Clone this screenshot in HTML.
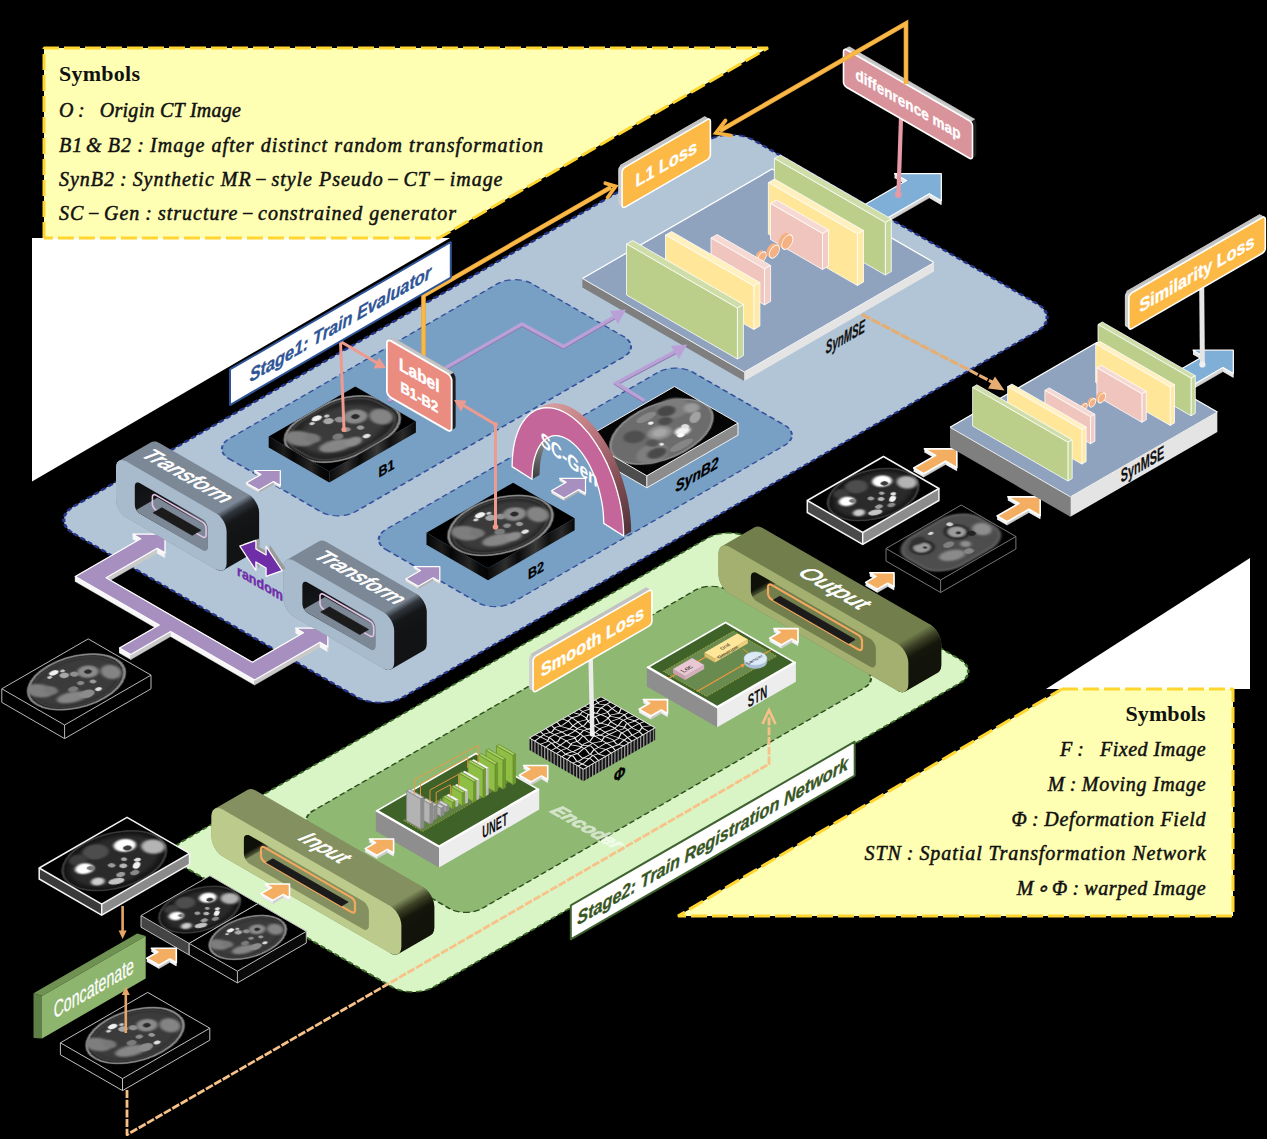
<!DOCTYPE html><html><head><meta charset="utf-8"><title>diagram</title><style>html,body{margin:0;padding:0;background:#000;}svg{display:block}</style></head><body>
<svg width="1267" height="1139" viewBox="0 0 1267 1139">
<defs>
<filter id="bl1" x="-20%" y="-20%" width="140%" height="140%"><feGaussianBlur stdDeviation="1.2"/></filter>
<filter id="bl2" x="-20%" y="-20%" width="140%" height="140%"><feGaussianBlur stdDeviation="2.2"/></filter>
<filter id="bl05" x="-20%" y="-20%" width="140%" height="140%"><feGaussianBlur stdDeviation="0.6"/></filter>
<linearGradient id="gblack" x1="0" y1="0" x2="1" y2="1"><stop offset="0" stop-color="#6f7a86"/><stop offset="0.25" stop-color="#15171a"/><stop offset="1" stop-color="#121315"/></linearGradient>
<linearGradient id="gblackG" x1="0" y1="0" x2="1" y2="1"><stop offset="0" stop-color="#7a8555"/><stop offset="0.3" stop-color="#1a1b0e"/><stop offset="1" stop-color="#12130a"/></linearGradient>
<linearGradient id="gslot" x1="0" y1="0" x2="0.6" y2="1"><stop offset="0" stop-color="#0e0f10"/><stop offset="0.45" stop-color="#17191b"/><stop offset="0.8" stop-color="#5e6872"/></linearGradient>
<linearGradient id="gslotG" x1="0" y1="0" x2="0.6" y2="1"><stop offset="0" stop-color="#101007"/><stop offset="0.45" stop-color="#1a1b0e"/><stop offset="0.8" stop-color="#6a7448"/></linearGradient>
<linearGradient id="gside" x1="0" y1="0" x2="1" y2="0"><stop offset="0" stop-color="#0a0a0a"/><stop offset="0.3" stop-color="#2a2a2a"/><stop offset="0.5" stop-color="#0d0d0d"/><stop offset="0.8" stop-color="#333"/><stop offset="1" stop-color="#0a0a0a"/></linearGradient>
<linearGradient id="garch" x1="0" y1="0" x2="0" y2="1"><stop offset="0" stop-color="#b57a84"/><stop offset="0.5" stop-color="#8a5158"/><stop offset="1" stop-color="#4a3035"/></linearGradient>
<linearGradient id="gsideL" x1="0" y1="0" x2="1" y2="0"><stop offset="0" stop-color="#050505"/><stop offset="0.25" stop-color="#1c1c1c"/><stop offset="0.4" stop-color="#060606"/><stop offset="0.7" stop-color="#262626"/><stop offset="0.85" stop-color="#0a0a0a"/><stop offset="1" stop-color="#050505"/></linearGradient>
<linearGradient id="gsideR" x1="0" y1="0" x2="1" y2="0"><stop offset="0" stop-color="#0a0a0a"/><stop offset="0.2" stop-color="#2e2e2e"/><stop offset="0.35" stop-color="#0a0a0a"/><stop offset="0.55" stop-color="#3a3a3a"/><stop offset="0.7" stop-color="#101010"/><stop offset="0.85" stop-color="#2a2a2a"/><stop offset="1" stop-color="#080808"/></linearGradient>
</defs>

<rect width="1267" height="1139" fill="#000"/>
<!-- parts_bg -->
<polygon points="32,238 450,238 32,481.5" fill="#ffffff" />
<polygon points="1250,558 1250,689 1046,689" fill="#ffffff" />
<polygon points="44,48 768,48 439,238 44,238" fill="#FFFFB3" />
<polyline points="44,238 44,48 768,48 439,238 44,238" fill="none" stroke="#FFD530" stroke-width="3" stroke-dasharray="16,5" stroke-linejoin="bevel"/>
<polygon points="1062,689 1233,689 1233,916 678,916" fill="#FFFFB3" />
<polyline points="1062,689 1233,689 1233,916 678,916 1062,689" fill="none" stroke="#FFD530" stroke-width="3" stroke-dasharray="16,5" stroke-linejoin="bevel"/>
<text x="59" y="81.2" font-family="&quot;Liberation Serif&quot;, serif" font-weight="bold" font-size="22" fill="#111" textLength="81" lengthAdjust="spacing">Symbols</text>
<text x="59" y="116.7" font-family="&quot;Liberation Serif&quot;, serif" font-style="italic" font-size="20" fill="#111" stroke="#111" stroke-width="0.5" textLength="182" lengthAdjust="spacing" xml:space="preserve">O :   Origin CT Image</text>
<text x="59" y="151.5" font-family="&quot;Liberation Serif&quot;, serif" font-style="italic" font-size="20" fill="#111" stroke="#111" stroke-width="0.5" textLength="484" lengthAdjust="spacing" xml:space="preserve">B1 &amp; B2 : Image after distinct random transformation</text>
<text x="59" y="186" font-family="&quot;Liberation Serif&quot;, serif" font-style="italic" font-size="20" fill="#111" stroke="#111" stroke-width="0.5" textLength="443.5" lengthAdjust="spacing" xml:space="preserve">SynB2 : Synthetic MR − style Pseudo − CT − image</text>
<text x="59" y="220.4" font-family="&quot;Liberation Serif&quot;, serif" font-style="italic" font-size="20" fill="#111" stroke="#111" stroke-width="0.5" textLength="397" lengthAdjust="spacing" xml:space="preserve">SC − Gen : structure − constrained generator</text>
<text x="1125.5" y="721" font-family="&quot;Liberation Serif&quot;, serif" font-weight="bold" font-size="22" fill="#111" textLength="80" lengthAdjust="spacing">Symbols</text>
<text x="1060" y="756.3" font-family="&quot;Liberation Serif&quot;, serif" font-style="italic" font-size="20" fill="#111" stroke="#111" stroke-width="0.5" textLength="145.5999999999999" lengthAdjust="spacing" xml:space="preserve">F :   Fixed Image</text>
<text x="1047.7" y="791" font-family="&quot;Liberation Serif&quot;, serif" font-style="italic" font-size="20" fill="#111" stroke="#111" stroke-width="0.5" textLength="157.89999999999986" lengthAdjust="spacing" xml:space="preserve">M : Moving Image</text>
<text x="1011.4" y="825.7" font-family="&quot;Liberation Serif&quot;, serif" font-style="italic" font-size="20" fill="#111" stroke="#111" stroke-width="0.5" textLength="194.19999999999993" lengthAdjust="spacing" xml:space="preserve">Φ : Deformation Field</text>
<text x="864.6" y="859.8" font-family="&quot;Liberation Serif&quot;, serif" font-style="italic" font-size="20" fill="#111" stroke="#111" stroke-width="0.5" textLength="340.9999999999999" lengthAdjust="spacing" xml:space="preserve">STN : Spatial Transformation Network</text>
<text x="1016.8" y="894.6" font-family="&quot;Liberation Serif&quot;, serif" font-style="italic" font-size="20" fill="#111" stroke="#111" stroke-width="0.5" textLength="188.79999999999995" lengthAdjust="spacing" xml:space="preserve">M ∘ Φ : warped Image</text>
<!-- parts_stage1 -->
<rect x="0" y="0" width="381" height="786.1" rx="27" ry="27" fill="#B1C5D6" transform="matrix(0.8660,0.5000,0.8660,-0.5000,50.1,520)" stroke="#26358c" stroke-width="2.6" stroke-dasharray="5,3" />
<rect x="0" y="0" width="145.8" height="350" rx="20" ry="20" fill="#78A0C4" transform="matrix(0.8660,0.5000,0.8660,-0.5000,211.8,448.8)" stroke="#36509c" stroke-width="1.7" stroke-dasharray="5.5,3.5" />
<rect x="0" y="0" width="146" height="354.5" rx="20" ry="20" fill="#78A0C4" transform="matrix(0.8660,0.5000,0.8660,-0.5000,368.6,539.5)" stroke="#36509c" stroke-width="1.7" stroke-dasharray="5.5,3.5" />
<polygon points="165,534.2 132.9,534.2 132.9,539.2 165,539.2" fill="#c9c9c9" stroke="#c9c9c9" stroke-width="0.5" stroke-linejoin="round" />
<polygon points="132.9,534.2 140.7,538.8 140.7,543.8 132.9,539.2" fill="#f6f6f6" stroke="#f6f6f6" stroke-width="0.5" stroke-linejoin="round" />
<polygon points="140.7,538.8 75.3,576.5 75.3,581.5 140.7,543.8" fill="#c9c9c9" stroke="#c9c9c9" stroke-width="0.5" stroke-linejoin="round" />
<polygon points="75.3,576.5 159.3,625 159.3,630 75.3,581.5" fill="#f6f6f6" stroke="#f6f6f6" stroke-width="0.5" stroke-linejoin="round" />
<polygon points="159.3,625 119.5,648 119.5,653 159.3,630" fill="#c9c9c9" stroke="#c9c9c9" stroke-width="0.5" stroke-linejoin="round" />
<polygon points="119.5,648 130.8,654.5 130.8,659.5 119.5,653" fill="#f6f6f6" stroke="#f6f6f6" stroke-width="0.5" stroke-linejoin="round" />
<polygon points="130.8,654.5 170.6,631.5 170.6,636.5 130.8,659.5" fill="#c9c9c9" stroke="#c9c9c9" stroke-width="0.5" stroke-linejoin="round" />
<polygon points="170.6,631.5 254.6,680 254.6,685 170.6,636.5" fill="#f6f6f6" stroke="#f6f6f6" stroke-width="0.5" stroke-linejoin="round" />
<polygon points="254.6,680 320,642.2 320,647.2 254.6,685" fill="#c9c9c9" stroke="#c9c9c9" stroke-width="0.5" stroke-linejoin="round" />
<polygon points="320,642.2 327.8,646.8 327.8,651.8 320,647.2" fill="#f6f6f6" stroke="#f6f6f6" stroke-width="0.5" stroke-linejoin="round" />
<polygon points="327.8,646.8 327.8,628.2 327.8,633.2 327.8,651.8" fill="#c9c9c9" stroke="#c9c9c9" stroke-width="0.5" stroke-linejoin="round" />
<polygon points="327.8,628.2 295.7,628.2 295.7,633.2 327.8,633.2" fill="#c9c9c9" stroke="#c9c9c9" stroke-width="0.5" stroke-linejoin="round" />
<polygon points="295.7,628.2 303.5,632.8 303.5,637.8 295.7,633.2" fill="#f6f6f6" stroke="#f6f6f6" stroke-width="0.5" stroke-linejoin="round" />
<polygon points="303.5,632.8 252.4,662.2 252.4,667.2 303.5,637.8" fill="#c9c9c9" stroke="#c9c9c9" stroke-width="0.5" stroke-linejoin="round" />
<polygon points="252.4,662.2 106.1,577.8 106.1,582.8 252.4,667.2" fill="#f6f6f6" stroke="#f6f6f6" stroke-width="0.5" stroke-linejoin="round" />
<polygon points="106.1,577.8 157.2,548.2 157.2,553.2 106.1,582.8" fill="#c9c9c9" stroke="#c9c9c9" stroke-width="0.5" stroke-linejoin="round" />
<polygon points="157.2,548.2 165,552.8 165,557.8 157.2,553.2" fill="#f6f6f6" stroke="#f6f6f6" stroke-width="0.5" stroke-linejoin="round" />
<polygon points="165,552.8 165,534.2 165,539.2 165,557.8" fill="#c9c9c9" stroke="#c9c9c9" stroke-width="0.5" stroke-linejoin="round" />
<polygon points="165,534.2 132.9,534.2 140.7,538.8 75.3,576.5 159.3,625 119.5,648 130.8,654.5 170.6,631.5 254.6,680 320,642.2 327.8,646.8 327.8,628.2 295.7,628.2 303.5,632.8 252.4,662.2 106.1,577.8 157.2,548.2 165,552.8" fill="#A78FC0" stroke="#ffffff" stroke-width="1.3" stroke-linejoin="round" />
<polygon points="941.3,177.7 894.5,177.7 906.5,184.6 843.3,221.1 866.1,234.3 929.3,197.8 941.3,204.7" fill="#d4d4d4" stroke="#d4d4d4" stroke-width="0.6" stroke-linejoin="round" />
<polygon points="894.5,173.7 906.5,180.6 906.5,184.6 894.5,177.7" fill="#e6e6e6" />
<polygon points="843.3,217.1 866.1,230.3 866.1,234.3 843.3,221.1" fill="#e6e6e6" />
<polygon points="929.3,193.8 941.3,200.7 941.3,204.7 929.3,197.8" fill="#e6e6e6" />
<polygon points="941.3,173.7 894.5,173.7 906.5,180.6 843.3,217.1 866.1,230.3 929.3,193.8 941.3,200.7" fill="#7FAFD7" stroke="#ffffff" stroke-width="1.2" stroke-linejoin="round" />
<polygon points="582.4,278.5 744.3,372 744.3,381 582.4,287.5" fill="#7f7f7f" />
<polygon points="744.3,372 934,262.5 934,271.5 744.3,381" fill="#e4e4e4" />
<polygon points="582.4,278.5 772.1,169 934,262.5 744.3,372" fill="#8FA3BF" />
<polyline points="582.4,278.5 772.1,169 934,262.5" fill="none" stroke="#ffffff" stroke-width="1.3" />
<polyline points="582.4,278.5 744.3,372 934,262.5" fill="none" stroke="#f4f4f4" stroke-width="1" />
<polygon points="774.4,158.5 885.3,222.5 891.3,219 780.5,155" fill="#cfdea9" stroke="#ffffff" stroke-width="0.8" stroke-linejoin="round" />
<polygon points="885.3,222.5 885.3,275 891.3,271.5 891.3,219" fill="#c6d79b" stroke="#ffffff" stroke-width="0.8" stroke-linejoin="round" />
<polygon points="774.4,158.5 885.3,222.5 885.3,275 774.4,211" fill="#BBCF8A" stroke="#ffffff" stroke-width="0.8" stroke-linejoin="round" />
<polygon points="768.4,182.5 857.4,233.9 863.5,230.4 774.5,179" fill="#fff0bf" stroke="#ffffff" stroke-width="0.8" stroke-linejoin="round" />
<polygon points="857.4,233.9 857.4,285.5 863.5,282 863.5,230.4" fill="#ffeaa8" stroke="#ffffff" stroke-width="0.8" stroke-linejoin="round" />
<polygon points="768.4,182.5 857.4,233.9 857.4,285.5 768.4,234.1" fill="#FFE699" stroke="#ffffff" stroke-width="0.8" stroke-linejoin="round" />
<polygon points="770.5,203.5 822.5,233.5 828.5,230 776.6,200" fill="#f6d9d3" stroke="#ffffff" stroke-width="0.8" stroke-linejoin="round" />
<polygon points="822.5,233.5 822.5,269.5 828.5,266 828.5,230" fill="#f2cdc6" stroke="#ffffff" stroke-width="0.8" stroke-linejoin="round" />
<polygon points="770.5,203.5 822.5,233.5 822.5,269.5 770.5,239.5" fill="#F0C5BD" stroke="#ffffff" stroke-width="0.8" stroke-linejoin="round" />
<circle r="4.9" fill="#F4B183" transform="matrix(0.8660,-0.5000,0,1,759.6,255.7)"/>
<circle r="4.9" fill="#F4B183" transform="matrix(0.8660,-0.5000,0,1,760.5,256.2)"/>
<circle r="4.9" fill="#F4B183" transform="matrix(0.8660,-0.5000,0,1,761.3,256.7)"/>
<circle r="4.9" fill="#F4B183" stroke="#fff" stroke-width="0.9" transform="matrix(0.8660,-0.5000,0,1,762.1,257.2)"/>
<circle r="5.9" fill="#F4B183" transform="matrix(0.8660,-0.5000,0,1,771.4,249.8)"/>
<circle r="5.9" fill="#F4B183" transform="matrix(0.8660,-0.5000,0,1,772.4,250.4)"/>
<circle r="5.9" fill="#F4B183" transform="matrix(0.8660,-0.5000,0,1,773.4,251)"/>
<circle r="5.9" fill="#F4B183" stroke="#fff" stroke-width="0.9" transform="matrix(0.8660,-0.5000,0,1,774.4,251.6)"/>
<circle r="6.5" fill="#F4B183" transform="matrix(0.8660,-0.5000,0,1,784,240.1)"/>
<circle r="6.5" fill="#F4B183" transform="matrix(0.8660,-0.5000,0,1,785.1,240.8)"/>
<circle r="6.5" fill="#F4B183" transform="matrix(0.8660,-0.5000,0,1,786.2,241.4)"/>
<circle r="6.5" fill="#F4B183" stroke="#fff" stroke-width="0.9" transform="matrix(0.8660,-0.5000,0,1,787.3,242.1)"/>
<polygon points="711,238 764.5,268.9 770.6,265.4 717.1,234.5" fill="#f6d9d3" stroke="#ffffff" stroke-width="0.8" stroke-linejoin="round" />
<polygon points="764.5,268.9 764.5,304.9 770.6,301.4 770.6,265.4" fill="#f2cdc6" stroke="#ffffff" stroke-width="0.8" stroke-linejoin="round" />
<polygon points="711,238 764.5,268.9 764.5,304.9 711,274" fill="#F0C5BD" stroke="#ffffff" stroke-width="0.8" stroke-linejoin="round" />
<polygon points="665.5,235 753.8,286 759.9,282.5 671.6,231.5" fill="#fff0bf" stroke="#ffffff" stroke-width="0.8" stroke-linejoin="round" />
<polygon points="753.8,286 753.8,329.5 759.9,326 759.9,282.5" fill="#ffeaa8" stroke="#ffffff" stroke-width="0.8" stroke-linejoin="round" />
<polygon points="665.5,235 753.8,286 753.8,329.5 665.5,278.5" fill="#FFE699" stroke="#ffffff" stroke-width="0.8" stroke-linejoin="round" />
<polygon points="626.5,244 737.4,308 743.4,304.5 632.6,240.5" fill="#cfdea9" stroke="#ffffff" stroke-width="0.8" stroke-linejoin="round" />
<polygon points="737.4,308 737.4,359 743.4,355.5 743.4,304.5" fill="#c6d79b" stroke="#ffffff" stroke-width="0.8" stroke-linejoin="round" />
<polygon points="626.5,244 737.4,308 737.4,359 626.5,295" fill="#BBCF8A" stroke="#ffffff" stroke-width="0.8" stroke-linejoin="round" />
<g transform="matrix(0.8660,-0.5000,0,1,845.4,343)"><text transform="scale(0.61,1)" font-family="&quot;Liberation Sans&quot;, sans-serif" font-size="18.5" font-weight="bold" font-style="italic" fill="#111" text-anchor="middle"  stroke="#111" stroke-width="0.3" stroke-linejoin="round">SynMSE</text></g>
<polygon points="618.2,170.1 618.4,168.6 619.1,167.1 620.1,165.7 621.2,164.8 703.5,117.3 704.7,116.9 705.6,117.1 709.5,119.3 710.2,120.1 710.4,121.3 710.4,154.3 710.2,155.8 709.5,157.3 708.6,158.6 707.4,159.6 625.1,207.1 624,207.4 623,207.3 619.1,205 618.4,204.3 618.2,203.1" fill="#cdcdcd" />
<polygon points="623.9,167.8 708.6,118.9 704.7,116.6 620,165.5" fill="#c2c2c2" stroke="#c2c2c2" stroke-width="0.8" stroke-linejoin="round" />
<polygon points="622.1,172.3 622.3,170.8 623,169.3 624,168 625.1,167.1 707.4,119.6 708.6,119.1 709.5,119.3 710.2,120.1 710.4,121.3 710.4,154.3 710.2,155.8 709.5,157.3 708.6,158.6 707.4,159.6 625.1,207.1 624,207.5 623,207.3 622.3,206.5 622.1,205.3" fill="#FDB945" stroke="#ffffff" stroke-width="1.6" stroke-linejoin="round" />
<text transform="matrix(0.8660,-0.5000,0,1,666.3,170)" font-family="&quot;Liberation Sans&quot;, sans-serif" font-size="18.8" font-weight="bold" font-style="normal" fill="#fff" text-anchor="middle"  stroke="#fff" stroke-width="0.35" stroke-linejoin="round">L1 Loss</text>
<polyline points="388.5,402.1 522,325.6 563.4,348.2 619,315.6" fill="none" stroke="#8F78AE" stroke-width="2.4" stroke-linejoin="miter"/>
<polyline points="388.5,400.5 522,324 563.4,346.6 619,314" fill="none" stroke="#B9A0D6" stroke-width="3.4" stroke-linejoin="miter"/>
<polyline points="644.4,402.2 616,384.6 680,350.6" fill="none" stroke="#8F78AE" stroke-width="2.4" stroke-linejoin="miter"/>
<polyline points="644.4,400.6 616,383 680,349" fill="none" stroke="#B9A0D6" stroke-width="3.4" stroke-linejoin="miter"/>
<polygon points="626,309.5 610,311 618,324" fill="#B9A0D6" />
<polygon points="687,344.5 671,346 679,359" fill="#B9A0D6" />
<polygon points="116,467.5 116.3,464.6 117.4,462.3 119,460.8 151.5,442 153.7,441.4 156.2,441.6 158.9,442.8 248.7,494.6 251.4,496.6 253.9,499.2 256,502.4 257.7,505.8 258.7,509.3 259.1,512.6 259.1,544.6 258.7,547.5 257.7,549.8 256,551.3 223.6,570.1 221.4,570.7 218.9,570.5 216.2,569.4 126.4,517.5 123.7,515.5 121.2,512.9 119,509.7 117.4,506.3 116.3,502.8 116,499.5" fill="#7C8896" />
<linearGradient id="g1" gradientUnits="userSpaceOnUse" x1="216.2" y1="513.4" x2="231.6" y2="540"><stop offset="0" stop-color="#7C8896"/><stop offset="0.22" stop-color="#30353b"/><stop offset="0.5" stop-color="#141618"/><stop offset="1" stop-color="#121315"/></linearGradient>
<polygon points="216.2,513.4 248.7,494.6 251.4,496.6 253.9,499.2 256,502.4 257.7,505.8 258.7,509.3 259.1,512.6 259.1,544.6 258.7,547.5 257.7,549.8 256,551.3 223.6,570.1 221.4,570.7 218.9,570.5 216.2,569.4" fill="url(#g1)" />
<polygon points="116,467.5 116.4,464.6 117.4,462.3 119,460.8 121.2,460.1 123.7,460.4 126.4,461.5 216.2,513.4 218.9,515.3 221.4,518 223.5,521.1 225.2,524.5 226.2,528 226.6,531.4 226.6,563.4 226.2,566.3 225.2,568.5 223.5,570.1 221.4,570.7 218.9,570.5 216.2,569.4 126.4,517.5 123.7,515.5 121.2,512.9 119,509.7 117.4,506.3 116.4,502.8 116,499.5" fill="#A8BBCC" />
<clipPath id="c2"><polygon points="134.8,486.2 135,484.7 135.5,483.6 136.3,482.8 137.4,482.5 138.6,482.6 140,483.2 202.6,519.3 203.9,520.3 205.2,521.6 206.3,523.2 207.1,524.9 207.6,526.6 207.8,528.3 207.8,546.9 207.6,548.4 207.1,549.5 206.3,550.3 205.2,550.6 203.9,550.5 202.6,549.9 140,513.8 138.6,512.8 137.4,511.4 136.3,509.9 135.5,508.2 135,506.4 134.8,504.8"/></clipPath>
<polygon points="134.8,486.2 135,484.7 135.5,483.6 136.3,482.8 137.4,482.5 138.6,482.6 140,483.2 202.6,519.3 203.9,520.3 205.2,521.6 206.3,523.2 207.1,524.9 207.6,526.6 207.8,528.3 207.8,546.9 207.6,548.4 207.1,549.5 206.3,550.3 205.2,550.6 203.9,550.5 202.6,549.9 140,513.8 138.6,512.8 137.4,511.4 136.3,509.9 135.5,508.2 135,506.4 134.8,504.8" fill="url(#gslot)" />
<g clip-path="url(#c2)"><polygon points="134.8,510.8 207.8,552.9 230.3,539.9 157.3,497.8" fill="#7C8896" /></g>
<polygon points="152.4,497.1 152.5,496.1 152.8,495.4 153.4,494.9 154.1,494.6 154.9,494.7 155.8,495.1 202.6,522.1 203.5,522.8 204.3,523.6 205.1,524.7 205.6,525.8 205.9,527 206.1,528.1 206.1,534.9 205.9,535.9 205.6,536.6 205.1,537.1 204.3,537.4 203.5,537.3 202.6,536.9 155.8,509.9 154.9,509.2 154.1,508.4 153.4,507.3 152.8,506.2 152.5,505 152.4,503.9" fill="none" stroke="#E3C3E3" stroke-width="1.6" stroke-linejoin="round" />
<polygon points="153.2,512.8 192.2,535.3 200.9,530.3 161.9,507.8" fill="#1b1b1b" stroke="#1b1b1b" stroke-width="0.8" stroke-linejoin="round" />
<polygon points="283.6,566.7 283.9,563.8 285,561.5 286.6,560 319.1,541.2 321.3,540.6 323.8,540.8 326.5,542 416.3,593.8 419,595.8 421.5,598.4 423.6,601.6 425.3,605 426.3,608.5 426.7,611.8 426.7,643.8 426.3,646.7 425.3,649 423.6,650.5 391.1,669.3 389,669.9 386.5,669.7 383.8,668.5 294,616.7 291.3,614.7 288.8,612.1 286.6,608.9 285,605.5 283.9,602 283.6,598.7" fill="#7C8896" />
<linearGradient id="g3" gradientUnits="userSpaceOnUse" x1="383.8" y1="612.6" x2="399.2" y2="639.2"><stop offset="0" stop-color="#7C8896"/><stop offset="0.22" stop-color="#30353b"/><stop offset="0.5" stop-color="#141618"/><stop offset="1" stop-color="#121315"/></linearGradient>
<polygon points="383.8,612.5 416.3,593.8 419,595.8 421.5,598.4 423.6,601.6 425.3,605 426.3,608.5 426.7,611.8 426.7,643.8 426.3,646.7 425.3,649 423.6,650.5 391.1,669.3 389,669.9 386.5,669.7 383.8,668.5" fill="url(#g3)" />
<polygon points="283.6,566.7 284,563.8 285,561.5 286.6,560 288.8,559.3 291.3,559.6 294,560.7 383.8,612.6 386.5,614.5 389,617.2 391.1,620.3 392.8,623.7 393.8,627.2 394.2,630.6 394.2,662.6 393.8,665.5 392.8,667.7 391.1,669.3 389,669.9 386.5,669.7 383.8,668.6 294,616.7 291.3,614.7 288.8,612.1 286.6,608.9 285,605.5 284,602 283.6,598.7" fill="#A8BBCC" />
<clipPath id="c4"><polygon points="302.4,585.4 302.6,583.9 303.1,582.8 303.9,582 305,581.7 306.2,581.8 307.6,582.4 370.2,618.5 371.5,619.5 372.8,620.8 373.9,622.4 374.7,624.1 375.2,625.8 375.4,627.5 375.4,646.1 375.2,647.6 374.7,648.7 373.9,649.5 372.8,649.8 371.5,649.7 370.2,649.1 307.6,613 306.2,612 305,610.6 303.9,609.1 303.1,607.4 302.6,605.6 302.4,604"/></clipPath>
<polygon points="302.4,585.4 302.6,583.9 303.1,582.8 303.9,582 305,581.7 306.2,581.8 307.6,582.4 370.2,618.5 371.5,619.5 372.8,620.8 373.9,622.4 374.7,624.1 375.2,625.8 375.4,627.5 375.4,646.1 375.2,647.6 374.7,648.7 373.9,649.5 372.8,649.8 371.5,649.7 370.2,649.1 307.6,613 306.2,612 305,610.6 303.9,609.1 303.1,607.4 302.6,605.6 302.4,604" fill="url(#gslot)" />
<g clip-path="url(#c4)"><polygon points="302.4,610 375.4,652.1 397.9,639.1 324.9,597" fill="#7C8896" /></g>
<polygon points="320,596.3 320.1,595.3 320.4,594.6 321,594.1 321.7,593.8 322.5,593.9 323.4,594.3 370.2,621.3 371.1,622 371.9,622.8 372.7,623.9 373.2,625 373.5,626.2 373.7,627.3 373.7,634.1 373.5,635.1 373.2,635.8 372.7,636.3 371.9,636.6 371.1,636.5 370.2,636.1 323.4,609.1 322.5,608.4 321.7,607.6 321,606.5 320.4,605.4 320.1,604.2 320,603.1" fill="none" stroke="#E3C3E3" stroke-width="1.6" stroke-linejoin="round" />
<polygon points="320.8,612 359.8,634.5 368.5,629.5 329.5,607" fill="#1b1b1b" stroke="#1b1b1b" stroke-width="0.8" stroke-linejoin="round" />
<text transform="matrix(0.8660,0.5000,-0.8660,0.5000,181.6,479.5)" font-family="&quot;Liberation Sans&quot;, sans-serif" font-size="21.5" font-weight="normal" font-style="italic" fill="#fff" text-anchor="middle"  stroke="#fff" stroke-width="0.8" stroke-linejoin="round">Transform</text>
<text transform="matrix(0.8660,0.5000,-0.8660,0.5000,354.2,580.8)" font-family="&quot;Liberation Sans&quot;, sans-serif" font-size="21.5" font-weight="normal" font-style="italic" fill="#fff" text-anchor="middle"  stroke="#fff" stroke-width="0.8" stroke-linejoin="round">Transform</text>
<polygon points="243.3,544.1 259.4,538.4 259.4,546.9 269.6,552.9 269.6,544.4 285.7,568.6 269.6,574.4 269.6,565.9 259.4,559.9 259.4,568.4" fill="#9b9b9b" />
<polygon points="239.8,546.1 255.9,540.4 255.9,548.9 266.1,554.9 266.1,546.4 282.2,570.6 266.1,576.4 266.1,567.9 255.9,561.9 255.9,570.4" fill="#6F2DA8" stroke="#ffffff" stroke-width="1.2" stroke-linejoin="round" />
<text transform="matrix(0.8660,0.5000,0,1,260,588.2)" font-family="&quot;Liberation Sans&quot;, sans-serif" font-size="14.5" font-weight="bold" font-style="normal" fill="#6F2DA8" text-anchor="middle"  stroke="#6F2DA8" stroke-width="0.4" stroke-linejoin="round">random</text>
<polygon points="585.5,480.8 559.5,480.8 566.2,484.7 551.5,493.2 564.1,500.4 578.8,491.9 585.5,495.8" fill="#b0b0b0" stroke="#b0b0b0" stroke-width="0.6" stroke-linejoin="round" />
<polygon points="559.5,478.3 566.2,482.2 566.2,484.7 559.5,480.8" fill="#e6e6e6" />
<polygon points="551.5,490.7 564.1,497.9 564.1,500.4 551.5,493.2" fill="#e6e6e6" />
<polygon points="578.8,489.4 585.5,493.3 585.5,495.8 578.8,491.9" fill="#e6e6e6" />
<polygon points="585.5,478.3 559.5,478.3 566.2,482.2 551.5,490.7 564.1,497.9 578.8,489.4 585.5,493.3" fill="#A78FC0" stroke="#ffffff" stroke-width="1.2" stroke-linejoin="round" />
<polygon points="280.3,473 254.3,473 261,476.9 246.3,485.4 258.9,492.6 273.6,484.1 280.3,488" fill="#b0b0b0" stroke="#b0b0b0" stroke-width="0.6" stroke-linejoin="round" />
<polygon points="254.3,470.5 261,474.4 261,476.9 254.3,473" fill="#e6e6e6" />
<polygon points="246.3,482.9 258.9,490.1 258.9,492.6 246.3,485.4" fill="#e6e6e6" />
<polygon points="273.6,481.6 280.3,485.5 280.3,488 273.6,484.1" fill="#e6e6e6" />
<polygon points="280.3,470.5 254.3,470.5 261,474.4 246.3,482.9 258.9,490.1 273.6,481.6 280.3,485.5" fill="#A78FC0" stroke="#ffffff" stroke-width="1.2" stroke-linejoin="round" />
<polygon points="439.8,569.1 413.8,569.1 420.5,573 405.8,581.5 418.4,588.8 433.1,580.2 439.8,584.1" fill="#b0b0b0" stroke="#b0b0b0" stroke-width="0.6" stroke-linejoin="round" />
<polygon points="413.8,566.6 420.5,570.5 420.5,573 413.8,569.1" fill="#e6e6e6" />
<polygon points="405.8,579 418.4,586.2 418.4,588.8 405.8,581.5" fill="#e6e6e6" />
<polygon points="433.1,577.8 439.8,581.6 439.8,584.1 433.1,580.2" fill="#e6e6e6" />
<polygon points="439.8,566.6 413.8,566.6 420.5,570.5 405.8,579 418.4,586.2 433.1,577.8 439.8,581.6" fill="#A78FC0" stroke="#ffffff" stroke-width="1.2" stroke-linejoin="round" />
<polygon points="268.7,436.6 329.3,471.6 329.3,482.6 268.7,447.6" fill="url(#gsideL)" />
<polygon points="329.3,471.6 415.9,421.6 415.9,432.6 329.3,482.6" fill="url(#gsideR)" />
<polygon points="268.7,436.6 355.3,386.6 415.9,421.6 329.3,471.6" fill="#000" />
<clipPath id="c5"><rect x="0" y="0" width="70" height="100"/></clipPath>
<g transform="matrix(0.8660,0.5000,0.8660,-0.5000,268.7,436.6)"><g clip-path="url(#c5)">
<clipPath id="b6"><rect x="0.5" y="-1" width="69" height="102" rx="28" ry="40"/></clipPath>
<rect x="0.5" y="-1" width="69" height="102" rx="28" ry="40" fill="#262626" stroke="#8a8a8a" stroke-width="2.2" filter="url(#bl05)"/>
<rect x="3.5" y="3" width="63" height="94" rx="25" ry="36" fill="none" stroke="#3c3c3c" stroke-width="2.2" filter="url(#bl05)"/>
<g clip-path="url(#b6)">
<ellipse cx="35" cy="50" rx="27" ry="41" fill="#3a3a3a" filter="url(#bl2)" />
<ellipse cx="20" cy="16" rx="13" ry="10.5" fill="#7e7e7e" filter="url(#bl1)" transform="rotate(20 20 16)" />
<ellipse cx="27" cy="24" rx="7" ry="6" fill="#777" filter="url(#bl1)" />
<ellipse cx="9.5" cy="46" rx="3.2" ry="5" fill="#f2f2f2" filter="url(#bl05)" />
<ellipse cx="12" cy="38" rx="2" ry="2.5" fill="#d0d0d0" filter="url(#bl05)" />
<ellipse cx="13" cy="54" rx="2" ry="2.5" fill="#c8c8c8" filter="url(#bl05)" />
<ellipse cx="19" cy="50" rx="4" ry="4.5" fill="#a8a8a8" filter="url(#bl05)" />
<ellipse cx="24" cy="58" rx="4" ry="4" fill="#8f8f8f" filter="url(#bl05)" />
<ellipse cx="30" cy="70" rx="9.5" ry="10.5" fill="#8a8a8a" filter="url(#bl1)" />
<ellipse cx="30" cy="70" rx="3.2" ry="3.6" fill="#2a2a2a" filter="url(#bl05)" />
<ellipse cx="45" cy="85" rx="11.5" ry="9.5" fill="#848484" filter="url(#bl1)" transform="rotate(-25 45 85)" />
<ellipse cx="48" cy="30" rx="8" ry="15" fill="#868686" filter="url(#bl1)" transform="rotate(-20 48 30)" />
<ellipse cx="54" cy="44" rx="5.5" ry="8" fill="#8c8c8c" filter="url(#bl1)" />
<ellipse cx="40" cy="40" rx="4" ry="5" fill="#7a7a7a" filter="url(#bl05)" />
<ellipse cx="56" cy="57" rx="2.6" ry="3.6" fill="#e2e2e2" filter="url(#bl05)" />
<ellipse cx="44" cy="62" rx="3" ry="3" fill="#9a9a9a" filter="url(#bl05)" />
<ellipse cx="38" cy="52" rx="3" ry="3.5" fill="#8a8a8a" filter="url(#bl05)" />
</g>
</g></g>
<text transform="matrix(0.8660,-0.5000,0,1,386.5,473)" font-family="&quot;Liberation Sans&quot;, sans-serif" font-size="14.5" font-weight="bold" font-style="normal" fill="#000" text-anchor="middle"  stroke="#000" stroke-width="0.3" stroke-linejoin="round">B1</text>
<polygon points="583.3,439.1 646.8,475.8 646.8,487.8 583.3,451.1" fill="#4d4d4d" />
<polygon points="646.8,475.8 738,423.1 738,435.1 646.8,487.8" fill="#8c8c8c" />
<polygon points="583.3,439.1 674.5,386.5 738,423.1 646.8,475.8" fill="#050505" />
<clipPath id="c7"><rect x="0" y="0" width="73.3" height="105.3"/></clipPath>
<g transform="matrix(0.8660,0.5000,0.8660,-0.5000,583.3,439.1)"><g clip-path="url(#c7)">
<ellipse cx="37.7" cy="52.6" rx="32.5" ry="52.6" fill="#6c6c6c" filter="url(#bl05)" transform="rotate(6 37.7 52.6)" stroke="#8a8a8a" stroke-width="2"/>
<ellipse cx="54.5" cy="25.3" rx="11.5" ry="15.8" fill="#7e7e7e" filter="url(#bl1)" transform="rotate(10 54.5 25.3)" />
<ellipse cx="56.5" cy="28.4" rx="6.3" ry="9.5" fill="#4a4a4a" filter="url(#bl1)" />
<ellipse cx="20.9" cy="82.1" rx="12.6" ry="15.8" fill="#7c7c7c" filter="url(#bl1)" transform="rotate(10 20.9 82.1)" />
<ellipse cx="19.9" cy="75.8" rx="6.8" ry="8.4" fill="#474747" filter="url(#bl1)" />
<ellipse cx="37.7" cy="50.5" rx="8.9" ry="11.1" fill="#8f8f8f" filter="url(#bl1)" />
<ellipse cx="37.7" cy="50.5" rx="5.2" ry="6.8" fill="#a8a8a8" filter="url(#bl1)" />
<ellipse cx="49.2" cy="65.3" rx="5.2" ry="7.4" fill="#f4f4f4" filter="url(#bl1)" />
<ellipse cx="46.1" cy="71.6" rx="3.1" ry="3.2" fill="#e0e0e0" filter="url(#bl05)" />
<ellipse cx="52.4" cy="60" rx="2.6" ry="3.2" fill="#ffffff" filter="url(#bl05)" />
<ellipse cx="23" cy="54.8" rx="2.1" ry="2.6" fill="#f0f0f0" filter="url(#bl05)" />
<ellipse cx="50.3" cy="40" rx="2.1" ry="2.1" fill="#eaeaea" filter="url(#bl05)" />
<ellipse cx="31.4" cy="93.7" rx="6.3" ry="7.4" fill="#9a9a9a" filter="url(#bl1)" transform="rotate(20 31.4 93.7)" />
<ellipse cx="27.2" cy="31.6" rx="8.4" ry="9.5" fill="#505050" filter="url(#bl1)" />
<ellipse cx="42.9" cy="86.3" rx="4.2" ry="8.4" fill="#a2a2a2" filter="url(#bl05)" transform="rotate(30 42.9 86.3)" />
<ellipse cx="29.3" cy="65.3" rx="5.2" ry="6.3" fill="#4c4c4c" filter="url(#bl1)" />
<ellipse cx="44" cy="35.8" rx="5.2" ry="5.3" fill="#555" filter="url(#bl1)" />
<ellipse cx="14.7" cy="57.9" rx="4.2" ry="10.5" fill="#888" filter="url(#bl05)" />
<ellipse cx="62.8" cy="50.5" rx="4.2" ry="12.6" fill="#858585" filter="url(#bl05)" />
</g></g>
<polygon points="583.3,439.1 674.5,386.5 738,423.1 646.8,475.8" fill="none" stroke="#f0f0f0" stroke-width="1" stroke-linejoin="round" />
<polyline points="583.3,439.1 583.3,451.1 646.8,487.8 738,435.1 738,423.1" fill="none" stroke="#f0f0f0" stroke-width="1" />
<polyline points="646.8,475.8 646.8,487.8" fill="none" stroke="#f0f0f0" stroke-width="1" />
<text transform="matrix(0.8660,-0.5000,0,1,697,480)" font-family="&quot;Liberation Sans&quot;, sans-serif" font-size="16" font-weight="bold" font-style="italic" fill="#000" text-anchor="middle"  stroke="#000" stroke-width="0.3" stroke-linejoin="round">SynB2</text>
<polygon points="426.5,532.7 488,568.2 488,580.2 426.5,544.7" fill="url(#gsideL)" />
<polygon points="488,568.2 574.6,518.2 574.6,530.2 488,580.2" fill="url(#gsideR)" />
<polygon points="426.5,532.7 513.1,482.7 574.6,518.2 488,568.2" fill="#000" />
<clipPath id="c8"><rect x="0" y="0" width="71" height="100"/></clipPath>
<g transform="matrix(0.8660,0.5000,0.8660,-0.5000,426.5,532.7)"><g clip-path="url(#c8)">
<clipPath id="b9"><rect x="1" y="1" width="69" height="98" rx="34.5" ry="49"/></clipPath>
<rect x="1" y="1" width="69" height="98" rx="34.5" ry="49" fill="#262626" stroke="#8a8a8a" stroke-width="2.2" filter="url(#bl05)"/>
<rect x="4.1" y="5" width="62.9" height="90" rx="31.4" ry="45" fill="none" stroke="#3c3c3c" stroke-width="2.2" filter="url(#bl05)"/>
<g clip-path="url(#b9)">
<ellipse cx="35.5" cy="50" rx="27.4" ry="41" fill="#3a3a3a" filter="url(#bl2)" />
<ellipse cx="23" cy="22.2" rx="12.5" ry="10" fill="#7e7e7e" filter="url(#bl1)" transform="rotate(20 23 22.2)" />
<ellipse cx="29.4" cy="29.2" rx="6.7" ry="5.7" fill="#777" filter="url(#bl1)" />
<ellipse cx="13.4" cy="48.4" rx="3.1" ry="4.8" fill="#f2f2f2" filter="url(#bl05)" />
<ellipse cx="15.7" cy="41.4" rx="1.9" ry="2.4" fill="#d0d0d0" filter="url(#bl05)" />
<ellipse cx="16.6" cy="55.4" rx="1.9" ry="2.4" fill="#c8c8c8" filter="url(#bl05)" />
<ellipse cx="22.1" cy="51.9" rx="3.9" ry="4.3" fill="#a8a8a8" filter="url(#bl05)" />
<ellipse cx="26.6" cy="58.9" rx="3.9" ry="3.8" fill="#8f8f8f" filter="url(#bl05)" />
<ellipse cx="32.1" cy="69.4" rx="9.2" ry="10" fill="#8a8a8a" filter="url(#bl1)" />
<ellipse cx="32.1" cy="69.4" rx="3.1" ry="3.4" fill="#2a2a2a" filter="url(#bl05)" />
<ellipse cx="45.9" cy="82.5" rx="11.1" ry="9" fill="#848484" filter="url(#bl1)" transform="rotate(-25 45.9 82.5)" />
<ellipse cx="48.6" cy="34.4" rx="7.7" ry="14.2" fill="#868686" filter="url(#bl1)" transform="rotate(-20 48.6 34.4)" />
<ellipse cx="54.1" cy="46.7" rx="5.3" ry="7.6" fill="#8c8c8c" filter="url(#bl1)" />
<ellipse cx="41.3" cy="43.2" rx="3.9" ry="4.8" fill="#7a7a7a" filter="url(#bl05)" />
<ellipse cx="55.9" cy="58" rx="2.5" ry="3.4" fill="#e2e2e2" filter="url(#bl05)" />
<ellipse cx="44.9" cy="62.4" rx="2.9" ry="2.8" fill="#9a9a9a" filter="url(#bl05)" />
<ellipse cx="39.5" cy="53.6" rx="2.9" ry="3.3" fill="#8a8a8a" filter="url(#bl05)" />
</g>
</g></g>
<text transform="matrix(0.8660,-0.5000,0,1,536,575)" font-family="&quot;Liberation Sans&quot;, sans-serif" font-size="14.5" font-weight="bold" font-style="normal" fill="#000" text-anchor="middle"  stroke="#000" stroke-width="0.3" stroke-linejoin="round">B2</text>
<linearGradient id="garchO" gradientUnits="userSpaceOnUse" x1="540" y1="405" x2="635" y2="535"><stop offset="0" stop-color="#d9a0a0"/><stop offset="0.35" stop-color="#b9737c"/><stop offset="0.7" stop-color="#7a4a50"/><stop offset="1" stop-color="#4a3035"/></linearGradient>
<linearGradient id="garchI" gradientUnits="userSpaceOnUse" x1="535" y1="440" x2="535" y2="480"><stop offset="0" stop-color="#8a8a8a"/><stop offset="1" stop-color="#3a3a3a"/></linearGradient>
<polygon points="623.7,536 623.5,529.1 623,522 622.2,514.8 621,507.5 619.5,500.1 617.6,492.8 615.5,485.5 613,478.3 610.3,471.2 607.4,464.4 604.1,457.7 600.7,451.3 597.1,445.3 593.2,439.6 589.3,434.2 585.1,429.3 580.9,424.8 576.6,420.8 572.3,417.3 567.9,414.3 563.5,411.8 559.2,409.9 554.9,408.6 550.7,407.8 546.5,407.6 542.6,408 538.7,409 535.1,410.5 531.7,412.6 528.4,415.2 525.5,418.4 522.8,422 520.3,426.2 518.2,430.8 516.3,435.9 514.8,441.4 513.6,447.2 512.8,453.4 512.3,459.8 512.1,466.6 519.6,462.2 519.8,455.5 520.3,449.1 521.1,442.9 522.3,437.1 523.8,431.6 525.7,426.5 527.8,421.9 530.3,417.7 533,414.1 535.9,410.9 539.2,408.3 542.6,406.2 546.2,404.7 550.1,403.7 554,403.3 558.2,403.5 562.4,404.3 566.7,405.6 571,407.5 575.4,410 579.8,413 584.1,416.5 588.4,420.5 592.6,425 596.8,429.9 600.7,435.3 604.6,441 608.2,447 611.6,453.4 614.9,460.1 617.8,466.9 620.5,474 623,481.2 625.1,488.5 627,495.8 628.5,503.2 629.7,510.5 630.5,517.7 631,524.8 631.2,531.8" fill="url(#garchO)" />
<polygon points="603.8,523.4 603.6,518.5 603.3,513.5 602.8,508.4 602,503.2 601,498.1 599.8,492.9 598.5,487.9 596.9,482.9 595.2,478 593.2,473.2 591.2,468.7 589,464.3 586.6,460.2 584.2,456.3 581.6,452.7 579,449.4 576.3,446.4 573.5,443.7 570.7,441.4 567.9,439.5 565.1,438 562.3,436.8 559.5,436 556.8,435.7 554.2,435.7 551.6,436.2 549.2,437.1 546.8,438.3 544.6,440 542.6,442 540.6,444.4 538.9,447.1 537.3,450.2 536,453.6 534.8,457.2 533.8,461.2 533,465.4 532.5,469.8 532.2,474.4 532,479.2 539.5,474.9 539.7,470.1 540,465.5 540.5,461.1 541.3,456.9 542.3,452.9 543.5,449.3 544.8,445.9 546.4,442.8 548.1,440.1 550.1,437.7 552.1,435.7 554.3,434 556.7,432.8 559.1,431.9 561.7,431.4 564.3,431.4 567,431.7 569.8,432.5 572.6,433.7 575.4,435.2 578.2,437.1 581,439.4 583.8,442.1 586.5,445.1 589.1,448.4 591.7,452 594.1,455.9 596.5,460 598.7,464.4 600.7,468.9 602.7,473.7 604.4,478.6 606,483.6 607.3,488.6 608.5,493.8 609.5,498.9 610.3,504.1 610.8,509.2 611.1,514.2 611.2,519.1" fill="url(#garchI)" />
<polygon points="623.7,536 623.5,529.1 623,522 622.2,514.8 621,507.5 619.5,500.1 617.6,492.8 615.5,485.5 613,478.3 610.3,471.2 607.4,464.4 604.1,457.7 600.7,451.3 597.1,445.3 593.2,439.6 589.3,434.2 585.1,429.3 580.9,424.8 576.6,420.8 572.3,417.3 567.9,414.3 563.5,411.8 559.2,409.9 554.9,408.6 550.7,407.8 546.5,407.6 542.6,408 538.7,409 535.1,410.5 531.7,412.6 528.4,415.2 525.5,418.4 522.8,422 520.3,426.2 518.2,430.8 516.3,435.9 514.8,441.4 513.6,447.2 512.8,453.4 512.3,459.8 512.1,466.6 532,479.2 532.2,474.4 532.5,469.8 533,465.4 533.8,461.2 534.8,457.2 536,453.6 537.3,450.2 538.9,447.1 540.6,444.4 542.6,442 544.6,440 546.8,438.3 549.2,437.1 551.6,436.2 554.2,435.7 556.8,435.7 559.5,436 562.3,436.8 565.1,438 567.9,439.5 570.7,441.4 573.5,443.7 576.3,446.4 579,449.4 581.6,452.7 584.2,456.3 586.6,460.2 589,464.3 591.2,468.7 593.2,473.2 595.2,478 596.9,482.9 598.5,487.9 599.8,492.9 601,498.1 602,503.2 602.8,508.4 603.3,513.5 603.6,518.5 603.8,523.4" fill="#C4669A" stroke="#ffffff" stroke-width="1.3" stroke-linejoin="round" />
<text transform="matrix(0.78,0.585,0,1,569,466.5)" font-family="&quot;Liberation Sans&quot;, sans-serif" font-size="20" font-weight="bold" fill="#fff" text-anchor="middle">SC-Gen</text>
<polyline points="344,429 340.5,341.5 378,363.5" fill="none" stroke="#EE9A8E" stroke-width="3" stroke-linejoin="round"/>
<circle cx="344" cy="429.5" r="2.6" fill="#EE9A8E"/>
<polygon points="386,368 373.5,368.5 379,357.5" fill="#EE9A8E" />
<polyline points="423.5,358 423.5,295.5 611,187.2" fill="none" stroke="#EFA63A" stroke-width="4.6" stroke-linejoin="miter"/>
<polyline points="423.5,358 423.5,295.5 611,187.2" fill="none" stroke="#F9BA48" stroke-width="2.8" stroke-linejoin="miter"/>
<polyline points="605.3,183.2 615.6,186.4 607.6,197.5" fill="none" stroke="#F5B03E" stroke-width="3.8" stroke-linejoin="miter" stroke-linecap="round"/>
<polygon points="386.9,343.2 387.2,341.6 388,340.7 391.9,338.4 393.2,338.2 394.7,338.7 451.7,371.6 453.2,372.8 454.4,374.5 455.3,376.5 455.6,378.4 455.6,425.9 455.3,427.5 454.4,428.5 450.5,430.7 449.3,431 447.8,430.4 390.8,397.6 389.3,396.4 388,394.6 387.2,392.7 386.9,390.8" fill="#1c1c1c" />
<polygon points="389.2,340.1 449.3,374.8 453.2,372.5 393.1,337.8" fill="#c4c4c4" stroke="#c4c4c4" stroke-width="0.8" stroke-linejoin="round" />
<polygon points="386.9,343.2 387.2,341.6 388,340.7 389.3,340.4 390.8,340.9 447.8,373.8 449.3,375.1 450.5,376.8 451.4,378.7 451.7,380.6 451.7,428.2 451.4,429.8 450.5,430.7 449.3,431 447.8,430.4 390.8,397.6 389.3,396.3 388,394.6 387.2,392.7 386.9,390.8" fill="#EA8C80" stroke="#ffffff" stroke-width="1.8" stroke-linejoin="round" />
<text transform="matrix(0.8660,0.5000,0,1,419.3,381.3)" font-family="&quot;Liberation Sans&quot;, sans-serif" font-size="17.9" font-weight="bold" font-style="normal" fill="#fff" text-anchor="middle"  stroke="#fff" stroke-width="0.5" stroke-linejoin="round">Label</text>
<text transform="matrix(0.8660,0.5000,0,1,419.3,402.4)" font-family="&quot;Liberation Sans&quot;, sans-serif" font-size="15.1" font-weight="bold" font-style="normal" fill="#fff" text-anchor="middle"  stroke="#fff" stroke-width="0.5" stroke-linejoin="round">B1-B2</text>
<polyline points="495.5,527 495.5,424.5 462,404.5" fill="none" stroke="#EE9A8E" stroke-width="3" stroke-linejoin="round"/>
<circle cx="495.5" cy="527" r="2.8" fill="#EE9A8E"/>
<circle cx="495.5" cy="424.5" r="2.4" fill="#EE9A8E"/>
<polygon points="454,400 466.5,400.5 461,411.5" fill="#EE9A8E" />
<polygon points="230,370 230,369.8 230.1,369.6 230.3,369.4 230.4,369.2 450.4,242.2 450.6,242.2 450.7,242.2 450.8,242.3 450.8,242.5 450.8,277 450.8,277.2 450.7,277.4 450.6,277.6 450.4,277.8 230.4,404.8 230.3,404.8 230.1,404.8 230,404.7 230,404.5" fill="#ffffff" stroke="#2F5597" stroke-width="2" stroke-linejoin="round" />
<text transform="matrix(0.8660,-0.5000,0,1,340.4,330.2)" font-family="&quot;Liberation Sans&quot;, sans-serif" font-size="18.8" font-weight="bold" font-style="italic" fill="#2F5597" text-anchor="middle"  stroke="#2F5597" stroke-width="0.35" stroke-linejoin="round">Stage1: Train Evaluator</text>
<polyline points="901,118 898.5,193" fill="none" stroke="#E59AA6" stroke-width="4.2" />
<circle cx="898.3" cy="194.5" r="3.4" fill="#E59AA6"/>
<polygon points="843.5,51.5 843.7,50.3 844.4,49.5 848.3,47.3 849.3,47.1 850.4,47.5 973.4,118.5 974.6,119.4 975.5,120.8 976.2,122.3 976.4,123.8 976.4,154.2 976.2,155.5 975.5,156.2 971.6,158.5 970.7,158.7 969.5,158.2 846.5,87.2 845.4,86.3 844.4,85 843.7,83.5 843.5,82" fill="#1c1c1c" />
<polygon points="845.3,49 970.7,121.4 974.6,119.2 849.2,46.8" fill="#c8c8c8" stroke="#c8c8c8" stroke-width="0.8" stroke-linejoin="round" />
<polygon points="843.5,51.5 843.7,50.3 844.4,49.5 845.4,49.3 846.5,49.8 969.5,120.8 970.7,121.7 971.6,123 972.3,124.5 972.5,126 972.5,156.5 972.3,157.7 971.6,158.5 970.7,158.7 969.5,158.2 846.5,87.2 845.4,86.3 844.4,85 843.7,83.5 843.5,82" fill="#D9939B" stroke="#ffffff" stroke-width="1.6" stroke-linejoin="round" />
<text transform="matrix(0.8660,0.5000,0,1,908,109.6)" font-family="&quot;Liberation Sans&quot;, sans-serif" font-size="15.7" font-weight="bold" font-style="normal" fill="#fff" text-anchor="middle"  stroke="#fff" stroke-width="0.35" stroke-linejoin="round">diffenrence map</text>
<polyline points="906,84 906,23.5 720,130.7" fill="none" stroke="#EFA63A" stroke-width="4.6" stroke-linejoin="miter"/>
<polyline points="906,84 906,23.5 720,130.7" fill="none" stroke="#F9BA48" stroke-width="2.8" stroke-linejoin="miter"/>
<polyline points="725.5,120.5 716,133 731,135.5" fill="none" stroke="#F5B03E" stroke-width="3.8" stroke-linejoin="miter" stroke-linecap="round"/>
<!-- parts_stage2 -->
<rect x="0" y="0" width="290.7" height="655.4" rx="24" ry="24" fill="#D9F5C6" transform="matrix(0.8660,0.5000,0.8660,-0.5000,161.1,853.6)" stroke="#3d6b28" stroke-width="2.2" stroke-dasharray="5,3" />
<rect x="0" y="0" width="195.3" height="479.2" rx="19" ry="19" fill="#8FB873" transform="matrix(0.8660,0.5000,0.8660,-0.5000,296.6,820.3)" stroke="#2c4d1c" stroke-width="1.7" stroke-dasharray="5.5,3" />
<text transform="matrix(0.8660,0.5000,-0.8660,0.5000,582,830.5)" font-family="&quot;Liberation Sans&quot;, sans-serif" font-size="19" font-weight="bold" font-style="italic" fill="#ffffff" text-anchor="middle" opacity="0.62" stroke="#ffffff" stroke-width="0.9" stroke-linejoin="round">Encoder</text>
<polyline points="127,1090 127,1134.7 769,764 769,716" fill="none" stroke="#F8C188" stroke-width="2.8" stroke-dasharray="8,1.7" stroke-linejoin="round"/>
<polyline points="762.5,724 769,710 775.5,724" fill="none" stroke="#F8C188" stroke-width="2.6" stroke-linejoin="miter"/>
<polygon points="718.5,553.5 718.9,550.4 720,547.9 721.8,546.2 754.7,527.2 757,526.5 759.8,526.8 762.7,528 930.1,624.6 933,626.8 935.7,629.6 938,633 939.8,636.8 940.9,640.6 941.3,644.1 941.3,665.1 940.9,668.3 939.8,670.8 938,672.4 905.1,691.4 902.8,692.2 900.1,691.9 897.2,690.6 729.8,594 726.8,591.9 724.1,589 721.8,585.6 720,581.9 718.9,578.1 718.5,574.5" fill="#727F4D" />
<linearGradient id="g10" gradientUnits="userSpaceOnUse" x1="897.2" y1="643.6" x2="910.1" y2="666"><stop offset="0" stop-color="#727F4D"/><stop offset="0.35" stop-color="#3d4226"/><stop offset="0.7" stop-color="#16170c"/><stop offset="1" stop-color="#12130a"/></linearGradient>
<polygon points="897.2,643.6 930.1,624.6 933,626.8 935.7,629.6 938,633 939.8,636.8 940.9,640.6 941.3,644.1 941.3,665.1 940.9,668.3 939.8,670.8 938,672.4 905.1,691.4 902.8,692.2 900.1,691.9 897.2,690.6" fill="url(#g10)" />
<polygon points="718.5,553.5 718.9,550.4 720,547.9 721.8,546.2 724.1,545.5 726.8,545.8 729.8,547 897.2,643.6 900.1,645.8 902.8,648.6 905.1,652.1 906.9,655.8 908,659.6 908.4,663.1 908.4,684.1 908,687.3 906.9,689.8 905.1,691.4 902.8,692.2 900.1,691.9 897.2,690.6 729.8,594 726.8,591.9 724.1,589 721.8,585.6 720,581.9 718.9,578.1 718.5,574.5" fill="#A3B070" />
<clipPath id="c11"><polygon points="750.9,576.7 751.1,575 751.7,573.7 752.7,572.8 753.9,572.4 755.4,572.5 757,573.2 869.8,638.4 871.4,639.5 872.8,641 874.1,642.9 875,644.9 875.7,646.9 875.9,648.9 875.9,663.1 875.7,664.8 875,666.2 874.1,667.1 872.8,667.5 871.4,667.3 869.8,666.6 757,601.5 755.4,600.4 753.9,598.8 752.7,597 751.7,595 751.1,592.9 750.9,591"/></clipPath>
<polygon points="750.9,576.7 751.1,575 751.7,573.7 752.7,572.8 753.9,572.4 755.4,572.5 757,573.2 869.8,638.4 871.4,639.5 872.8,641 874.1,642.9 875,644.9 875.7,646.9 875.9,648.9 875.9,663.1 875.7,664.8 875,666.2 874.1,667.1 872.8,667.5 871.4,667.3 869.8,666.6 757,601.5 755.4,600.4 753.9,598.8 752.7,597 751.7,595 751.1,592.9 750.9,591" fill="#727F4D" />
<linearGradient id="g12" gradientUnits="userSpaceOnUse" x1="750.9" y1="569.7" x2="764.6" y2="593.5"><stop offset="0" stop-color="#0f1008"/><stop offset="0.68" stop-color="#0f1008"/><stop offset="1" stop-color="#0f1008" stop-opacity="0"/></linearGradient>
<g clip-path="url(#c11)"><polygon points="748.9,567.7 748.9,599 785.5,578 785.5,549.7" fill="url(#g12)" /></g>
<polygon points="768,586.9 768.2,585.9 768.5,585.2 769.1,584.7 769.8,584.4 770.6,584.5 771.5,584.9 858.5,635.1 859.4,635.8 860.3,636.7 861,637.7 861.5,638.9 861.9,640 862,641.1 862,647.6 861.9,648.6 861.5,649.4 861,649.9 860.3,650.1 859.4,650 858.5,649.6 771.5,599.4 770.6,598.7 769.8,597.9 769.1,596.8 768.5,595.7 768.2,594.5 768,593.4" fill="none" stroke="#F4A85E" stroke-width="2.2" stroke-linejoin="round" />
<polygon points="779.9,596.2 855.1,639.6 848.6,643.4 773.4,600" fill="#1b1b1b" stroke="#1b1b1b" stroke-width="0.8" stroke-linejoin="round" />
<g transform="matrix(0.8660,0.5000,-0.8660,0.5000,828,592)"><text transform="scale(1.08,1)" font-family="&quot;Liberation Sans&quot;, sans-serif" font-size="22.5" font-weight="normal" font-style="italic" fill="#fff" text-anchor="middle"  stroke="#fff" stroke-width="0.8" stroke-linejoin="round">Output</text></g>
<polygon points="646.9,667 717.2,707.6 717.2,727.2 646.9,686.6" fill="#8e8e8e" />
<polygon points="717.2,707.6 795.9,662.2 795.9,681.8 717.2,727.2" fill="#ededed" />
<polygon points="646.9,667 725.5,621.6 795.9,662.2 717.2,707.6" fill="#ffffff" />
<polygon points="650,667 725.5,623.4 792.7,662.2 717.2,705.8" fill="#3F6228" />
<polygon points="663.4,671.5 733.3,631.1 776.6,656.1 706.7,696.5" fill="#6A8B4F" stroke="#c7b83c" stroke-width="0.7" stroke-linejoin="round" stroke-dasharray="1.5,1.5"/>
<polyline points="697,691.5 743,665" fill="none" stroke="#F09A3E" stroke-width="1.1" />
<polygon points="745.5,663.5 740.5,664.2 742.7,668" fill="#F09A3E" />
<polyline points="669,678.2 706,656.8" fill="none" stroke="#F09A3E" stroke-width="1.1" />
<polyline points="743,649 748,652.5" fill="none" stroke="#F09A3E" stroke-width="0.9" />
<polyline points="763,654.5 771,650" fill="none" stroke="#F09A3E" stroke-width="1.1" />
<polygon points="673,669 685.1,676 685.1,680 673,673" fill="#c9a0b0" />
<polygon points="685.1,676 704.2,665 704.2,669 685.1,680" fill="#d7b0c0" />
<polygon points="673,669 692.1,658 704.2,665 685.1,676" fill="#E9C7D3" />
<text transform="matrix(0.8660,-0.5000,0.8660,0.5000,688.5,670)" font-family="&quot;Liberation Sans&quot;, sans-serif" font-size="7" font-weight="normal" font-style="normal" fill="#222" text-anchor="middle" >Loc</text>
<polygon points="704.5,652.5 714.9,658.5 714.9,662.5 704.5,656.5" fill="#d9bf6a" />
<polygon points="714.9,658.5 747.8,639.5 747.8,643.5 714.9,662.5" fill="#ecd07e" />
<polygon points="704.5,652.5 737.4,633.5 747.8,639.5 714.9,658.5" fill="#FFE699" />
<text transform="matrix(0.8660,-0.5000,0.8660,0.5000,726.5,647.5)" font-family="&quot;Liberation Sans&quot;, sans-serif" font-size="5.2" font-weight="normal" font-style="normal" fill="#222" text-anchor="middle" >Grid</text>
<text transform="matrix(0.8660,-0.5000,0.8660,0.5000,729.5,653)" font-family="&quot;Liberation Sans&quot;, sans-serif" font-size="5.2" font-weight="normal" font-style="normal" fill="#222" text-anchor="middle" >Generator</text>
<ellipse cx="755.5" cy="662" rx="11.5" ry="6.8" fill="#a9bfd6"/>
<ellipse cx="755.5" cy="658.5" rx="11.5" ry="6.8" fill="#DCE9F7" stroke="#b8cbe0" stroke-width="0.5"/>
<text transform="matrix(0.8660,-0.5000,0.8660,0.5000,756,660.5)" font-family="&quot;Liberation Sans&quot;, sans-serif" font-size="4.8" font-weight="normal" font-style="normal" fill="#222" text-anchor="middle" >Sampler</text>
<polyline points="646.9,667 717.2,707.6 795.9,662.2" fill="none" stroke="#ffffff" stroke-width="1.5" />
<g transform="matrix(0.8660,-0.5000,0,1,757.5,702.5)"><text transform="scale(0.62,1)" font-family="&quot;Liberation Sans&quot;, sans-serif" font-size="18" font-weight="bold" font-style="normal" fill="#111" text-anchor="middle" >STN</text></g>
<polygon points="798,631.8 773.8,631.8 780,635.4 769.6,641.4 781.4,648.2 791.8,642.2 798,645.8" fill="#cfcfcf" stroke="#cfcfcf" stroke-width="0.6" stroke-linejoin="round" />
<polygon points="773.8,628.6 780,632.2 780,635.4 773.8,631.8" fill="#f0f0f0" />
<polygon points="769.6,638.2 781.4,645 781.4,648.2 769.6,641.4" fill="#f0f0f0" />
<polygon points="791.8,639 798,642.6 798,645.8 791.8,642.2" fill="#f0f0f0" />
<polygon points="798,628.6 773.8,628.6 780,632.2 769.6,638.2 781.4,645 791.8,639 798,642.6" fill="#F4AE62" stroke="#ffffff" stroke-width="1.6" stroke-linejoin="round" />
<polygon points="894,576 869.8,576 876,579.6 865.6,585.6 877.4,592.4 887.8,586.4 894,590" fill="#cfcfcf" stroke="#cfcfcf" stroke-width="0.6" stroke-linejoin="round" />
<polygon points="869.8,572.8 876,576.4 876,579.6 869.8,576" fill="#f0f0f0" />
<polygon points="865.6,582.4 877.4,589.2 877.4,592.4 865.6,585.6" fill="#f0f0f0" />
<polygon points="887.8,583.2 894,586.8 894,590 887.8,586.4" fill="#f0f0f0" />
<polygon points="894,572.8 869.8,572.8 876,576.4 865.6,582.4 877.4,589.2 887.8,583.2 894,586.8" fill="#F4AE62" stroke="#ffffff" stroke-width="1.6" stroke-linejoin="round" />
<pattern id="p13" width="3.2" height="20" patternUnits="userSpaceOnUse"><rect width="3.2" height="20" fill="#111"/><rect x="0" width="1.2" height="20" fill="#9a9a9a"/></pattern>
<polygon points="529.4,738 583.4,769.2 583.4,781.2 529.4,750" fill="url(#p13)" />
<polygon points="583.4,769.2 655.1,727.9 655.1,739.9 583.4,781.2" fill="url(#p13)" />
<polygon points="529.4,738 601,696.6 655.1,727.9 583.4,769.2" fill="#050505" />
<g transform="matrix(0.8660,0.5000,0.8660,-0.5000,529.4,738)" fill="none" stroke="#f0f0f0" stroke-width="1.05">
<path d="M0,0 L0,6.4 L0,12.7 L0,19.1 L0,25.4 L0,31.8 L0,38.2 L0,44.5 L0,50.9 L0,57.3 L0,63.6 L0,70 L0,76.3 L0,82.7"/>
<path d="M6.2,0 L5.5,6.4 L4.7,12.7 L6.9,19.1 L4.4,25.4 L6.4,31.8 L5.6,38.2 L4.3,44.5 L6.3,50.9 L4.2,57.3 L5.9,63.6 L4.3,70 L4.4,76.3 L5.9,82.7"/>
<path d="M12.5,0 L13.9,6.4 L10.8,12.7 L11.3,19.1 L13,25.4 L14.4,31.8 L12.8,38.2 L12,44.5 L14.6,50.9 L10.5,57.3 L14.1,63.6 L11.6,70 L10.9,76.3 L10.8,82.7"/>
<path d="M18.7,0 L17.9,6.4 L20.1,12.7 L17.3,19.1 L19.1,25.4 L19.3,31.8 L18.2,38.2 L18.9,44.5 L16.8,50.9 L16.8,57.3 L17.4,63.6 L19.5,70 L18.4,76.3 L17.9,82.7"/>
<path d="M25,0 L25.3,6.4 L24.8,12.7 L24.1,19.1 L26.3,25.4 L25.8,31.8 L23.8,38.2 L25.3,44.5 L25.1,50.9 L26.6,57.3 L26,63.6 L24,70 L27.1,76.3 L23.3,82.7"/>
<path d="M31.2,0 L30.8,6.4 L32.3,12.7 L29.7,19.1 L31.2,25.4 L29.2,31.8 L31.9,38.2 L32.4,44.5 L31.5,50.9 L32.9,57.3 L30.4,63.6 L32.1,70 L31.6,76.3 L31.6,82.7"/>
<path d="M37.4,0 L37.2,6.4 L38.9,12.7 L39.4,19.1 L37.3,25.4 L38.2,31.8 L35.5,38.2 L38.3,44.5 L38.1,50.9 L39.6,57.3 L38.9,63.6 L36.5,70 L36.9,76.3 L38.2,82.7"/>
<path d="M43.7,0 L41.6,6.4 L43.5,12.7 L42.2,19.1 L42,25.4 L41.7,31.8 L44.9,38.2 L42,44.5 L42.6,50.9 L43.2,57.3 L45.3,63.6 L41.8,70 L43.5,76.3 L43.9,82.7"/>
<path d="M49.9,0 L51.6,6.4 L51.3,12.7 L51.5,19.1 L48.9,25.4 L49.5,31.8 L49.3,38.2 L51.6,44.5 L51.9,50.9 L48.4,57.3 L48.5,63.6 L48.7,70 L48.7,76.3 L49.9,82.7"/>
<path d="M56.2,0 L56.6,6.4 L55.1,12.7 L54,19.1 L55.8,25.4 L55.6,31.8 L56.5,38.2 L58.2,44.5 L57,50.9 L56.2,57.3 L56.7,63.6 L56.9,70 L54.2,76.3 L57.9,82.7"/>
<path d="M62.4,0 L62.4,6.4 L62.4,12.7 L62.4,19.1 L62.4,25.4 L62.4,31.8 L62.4,38.2 L62.4,44.5 L62.4,50.9 L62.4,57.3 L62.4,63.6 L62.4,70 L62.4,76.3 L62.4,82.7"/>
<path d="M0,0 L6.2,0 L12.5,0 L18.7,0 L25,0 L31.2,0 L37.4,0 L43.7,0 L49.9,0 L56.2,0 L62.4,0"/>
<path d="M0,6.4 L6.2,7.6 L12.5,8 L18.7,7.7 L25,5.9 L31.2,5.9 L37.4,4.6 L43.7,7 L49.9,4.4 L56.2,4.5 L62.4,5.1"/>
<path d="M0,12.7 L6.2,11.2 L12.5,12 L18.7,10.8 L25,10.5 L31.2,11.2 L37.4,11 L43.7,12.1 L49.9,10.6 L56.2,14.4 L62.4,13.2"/>
<path d="M0,19.1 L6.2,17.5 L12.5,18 L18.7,18.4 L25,18.5 L31.2,17.4 L37.4,20.6 L43.7,21.3 L49.9,18.9 L56.2,19 L62.4,17.3"/>
<path d="M0,25.4 L6.2,23.7 L12.5,24.8 L18.7,24.4 L25,26.9 L31.2,24 L37.4,23.3 L43.7,27.4 L49.9,25.6 L56.2,23.9 L62.4,25.6"/>
<path d="M0,31.8 L6.2,29.7 L12.5,31.9 L18.7,33.9 L25,33.4 L31.2,32.7 L37.4,30.8 L43.7,31.2 L49.9,30.3 L56.2,33 L62.4,32"/>
<path d="M0,38.2 L6.2,39.4 L12.5,37.4 L18.7,37 L25,39.5 L31.2,40.3 L37.4,39.7 L43.7,39.5 L49.9,39.6 L56.2,39.2 L62.4,37"/>
<path d="M0,44.5 L6.2,44.6 L12.5,43.9 L18.7,42.5 L25,42.5 L31.2,43.6 L37.4,43.5 L43.7,45.4 L49.9,46.5 L56.2,44.3 L62.4,46.5"/>
<path d="M0,50.9 L6.2,53 L12.5,52.9 L18.7,50.3 L25,49.7 L31.2,49.7 L37.4,49.6 L43.7,49.6 L49.9,51.4 L56.2,52.7 L62.4,52.4"/>
<path d="M0,57.3 L6.2,57.2 L12.5,57.9 L18.7,58.6 L25,55.4 L31.2,58 L37.4,59.1 L43.7,58.5 L49.9,58.4 L56.2,57.2 L62.4,55.8"/>
<path d="M0,63.6 L6.2,64.9 L12.5,62.9 L18.7,64.9 L25,65.7 L31.2,63.2 L37.4,63.2 L43.7,65.6 L49.9,64.6 L56.2,62.2 L62.4,62"/>
<path d="M0,70 L6.2,68.4 L12.5,71.8 L18.7,71.3 L25,68.4 L31.2,71.4 L37.4,72.1 L43.7,70.7 L49.9,69.3 L56.2,70.2 L62.4,68.4"/>
<path d="M0,76.3 L6.2,74.2 L12.5,78.4 L18.7,77 L25,76.5 L31.2,78.2 L37.4,76 L43.7,78 L49.9,77.8 L56.2,75.1 L62.4,75.2"/>
<path d="M0,82.7 L6.2,82.7 L12.5,82.7 L18.7,82.7 L25,82.7 L31.2,82.7 L37.4,82.7 L43.7,82.7 L49.9,82.7 L56.2,82.7 L62.4,82.7"/>
</g>
<text transform="matrix(0.8660,-0.5000,0,1,619.5,779.5)" font-family="&quot;Liberation Sans&quot;, sans-serif" font-size="16" font-weight="bold" font-style="italic" fill="#000" text-anchor="middle"  stroke="#000" stroke-width="0.5" stroke-linejoin="round">Φ</text>
<polygon points="667.5,702.8 643.3,702.8 649.5,706.4 639.1,712.4 650.9,719.2 661.3,713.2 667.5,716.8" fill="#cfcfcf" stroke="#cfcfcf" stroke-width="0.6" stroke-linejoin="round" />
<polygon points="643.3,699.6 649.5,703.2 649.5,706.4 643.3,702.8" fill="#f0f0f0" />
<polygon points="639.1,709.2 650.9,716 650.9,719.2 639.1,712.4" fill="#f0f0f0" />
<polygon points="661.3,710 667.5,713.6 667.5,716.8 661.3,713.2" fill="#f0f0f0" />
<polygon points="667.5,699.6 643.3,699.6 649.5,703.2 639.1,709.2 650.9,716 661.3,710 667.5,713.6" fill="#F4AE62" stroke="#ffffff" stroke-width="1.6" stroke-linejoin="round" />
<polyline points="590.6,657 592.3,733" fill="none" stroke="#ececec" stroke-width="4.5" />
<circle cx="592.3" cy="734" r="2.6" fill="#f2f2f2"/>
<polygon points="529.2,658.8 529.4,657.3 530.1,655.8 531.1,654.4 532.2,653.5 645,588.4 646.1,588 647.1,588.2 651,590.4 651.7,591.2 651.9,592.4 651.9,620.9 651.7,622.4 651,623.9 650,625.2 648.9,626.1 536.1,691.2 535,691.6 534,691.5 530.1,689.2 529.4,688.5 529.2,687.2" fill="#cdcdcd" />
<polygon points="534.9,656.5 650.1,590 646.2,587.7 531,654.2" fill="#c2c2c2" stroke="#c2c2c2" stroke-width="0.8" stroke-linejoin="round" />
<polygon points="533.1,661 533.3,659.5 534,658 535,656.7 536.1,655.8 648.9,590.6 650,590.2 651,590.4 651.7,591.2 651.9,592.4 651.9,620.9 651.7,622.4 651,623.9 650,625.2 648.9,626.1 536.1,691.2 535,691.7 534,691.5 533.3,690.7 533.1,689.5" fill="#FDB945" stroke="#ffffff" stroke-width="1.6" stroke-linejoin="round" />
<text transform="matrix(0.8660,-0.5000,0,1,592.5,647.7)" font-family="&quot;Liberation Sans&quot;, sans-serif" font-size="18.8" font-weight="bold" font-style="normal" fill="#fff" text-anchor="middle"  stroke="#fff" stroke-width="0.35" stroke-linejoin="round">Smooth Loss</text>
<polygon points="375.8,810.5 439,847 439,867.5 375.8,831" fill="#8e8e8e" />
<polygon points="439,847 539.2,789.1 539.2,809.6 439,867.5" fill="#ededed" />
<polygon points="375.8,810.5 476,752.6 539.2,789.1 439,847" fill="#ffffff" />
<polygon points="378.9,810.5 476,754.5 536.1,789.1 439,845.2" fill="#3F6228" />
<polygon points="403.5,820.5 493.3,768.6 512.4,779.6 422.6,831.5" fill="#5F8144" stroke="#b9a93a" stroke-width="0.7" stroke-linejoin="round" stroke-dasharray="1.5,1.5"/>
<polygon points="496.5,746 513,755.5 515.6,754 499.1,744.5" fill="#a9d16a" stroke="#6a8f2e" stroke-width="0.8" stroke-linejoin="round" />
<polygon points="513,755.5 513,784.5 515.6,783 515.6,754" fill="#6f9a30" stroke="#6a8f2e" stroke-width="0.8" stroke-linejoin="round" />
<polygon points="496.5,746 513,755.5 513,784.5 496.5,775" fill="#8FBE45" stroke="#6a8f2e" stroke-width="0.8" stroke-linejoin="round" />
<polygon points="486,750.5 502.9,760.2 505.5,758.8 488.6,749" fill="#a9d16a" stroke="#6a8f2e" stroke-width="0.8" stroke-linejoin="round" />
<polygon points="502.9,760.2 502.9,789 505.5,787.5 505.5,758.8" fill="#6f9a30" stroke="#6a8f2e" stroke-width="0.8" stroke-linejoin="round" />
<polygon points="486,750.5 502.9,760.2 502.9,789 486,779.2" fill="#8FBE45" stroke="#6a8f2e" stroke-width="0.8" stroke-linejoin="round" />
<polygon points="478.4,755 495,764.6 497.6,763.1 481,753.5" fill="#a9d16a" stroke="#6a8f2e" stroke-width="0.8" stroke-linejoin="round" />
<polygon points="495,764.6 495,792 497.6,790.5 497.6,763.1" fill="#6f9a30" stroke="#6a8f2e" stroke-width="0.8" stroke-linejoin="round" />
<polygon points="478.4,755 495,764.6 495,792 478.4,782.4" fill="#8FBE45" stroke="#6a8f2e" stroke-width="0.8" stroke-linejoin="round" />
<polygon points="471.5,760.4 486.5,769.1 488.6,767.8 473.7,759.2" fill="#f5f5f5" stroke="none" stroke-width="0.8" stroke-linejoin="round" />
<polygon points="486.5,769.1 486.5,795.9 488.6,794.6 488.6,767.8" fill="#bdbdbd" stroke="none" stroke-width="0.8" stroke-linejoin="round" />
<polygon points="471.5,760.4 486.5,769.1 486.5,795.9 471.5,787.2" fill="#e6e6e6" stroke="none" stroke-width="0.8" stroke-linejoin="round" />
<polygon points="468,761.6 483,770.2 485.6,768.8 470.6,760.1" fill="#a9d16a" stroke="#6a8f2e" stroke-width="0.8" stroke-linejoin="round" />
<polygon points="483,770.2 483,797.9 485.6,796.4 485.6,768.8" fill="#6f9a30" stroke="#6a8f2e" stroke-width="0.8" stroke-linejoin="round" />
<polygon points="468,761.6 483,770.2 483,797.9 468,789.2" fill="#8FBE45" stroke="#6a8f2e" stroke-width="0.8" stroke-linejoin="round" />
<polygon points="462.5,772 477.1,780.5 479.3,779.2 464.7,770.8" fill="#f5f5f5" stroke="none" stroke-width="0.8" stroke-linejoin="round" />
<polygon points="477.1,780.5 477.1,799.9 479.3,798.6 479.3,779.2" fill="#bdbdbd" stroke="none" stroke-width="0.8" stroke-linejoin="round" />
<polygon points="462.5,772 477.1,780.5 477.1,799.9 462.5,791.4" fill="#e6e6e6" stroke="none" stroke-width="0.8" stroke-linejoin="round" />
<polygon points="459,773.4 473.6,781.9 476.2,780.4 461.6,771.9" fill="#a9d16a" stroke="#6a8f2e" stroke-width="0.8" stroke-linejoin="round" />
<polygon points="473.6,781.9 473.6,801.9 476.2,800.4 476.2,780.4" fill="#6f9a30" stroke="#6a8f2e" stroke-width="0.8" stroke-linejoin="round" />
<polygon points="459,773.4 473.6,781.9 473.6,801.9 459,793.4" fill="#8FBE45" stroke="#6a8f2e" stroke-width="0.8" stroke-linejoin="round" />
<polygon points="454.7,785.2 465.8,791.6 468,790.3 456.9,783.9" fill="#f5f5f5" stroke="none" stroke-width="0.8" stroke-linejoin="round" />
<polygon points="465.8,791.6 465.8,803.8 468,802.5 468,790.3" fill="#bdbdbd" stroke="none" stroke-width="0.8" stroke-linejoin="round" />
<polygon points="454.7,785.2 465.8,791.6 465.8,803.8 454.7,797.4" fill="#e6e6e6" stroke="none" stroke-width="0.8" stroke-linejoin="round" />
<polygon points="451.2,786.8 462.3,793.2 464.9,791.7 453.8,785.3" fill="#a9d16a" stroke="#6a8f2e" stroke-width="0.8" stroke-linejoin="round" />
<polygon points="462.3,793.2 462.3,805.8 464.9,804.3 464.9,791.7" fill="#6f9a30" stroke="#6a8f2e" stroke-width="0.8" stroke-linejoin="round" />
<polygon points="451.2,786.8 462.3,793.2 462.3,805.8 451.2,799.4" fill="#8FBE45" stroke="#6a8f2e" stroke-width="0.8" stroke-linejoin="round" />
<polygon points="446.4,795.2 456.1,800.8 458.3,799.5 448.6,793.9" fill="#f5f5f5" stroke="none" stroke-width="0.8" stroke-linejoin="round" />
<polygon points="456.1,800.8 456.1,807 458.3,805.8 458.3,799.5" fill="#bdbdbd" stroke="none" stroke-width="0.8" stroke-linejoin="round" />
<polygon points="446.4,795.2 456.1,800.8 456.1,807 446.4,801.4" fill="#e6e6e6" stroke="none" stroke-width="0.8" stroke-linejoin="round" />
<polygon points="442.9,797 452.6,802.6 455.2,801.1 445.5,795.5" fill="#a9d16a" stroke="#6a8f2e" stroke-width="0.8" stroke-linejoin="round" />
<polygon points="452.6,802.6 452.6,809 455.2,807.5 455.2,801.1" fill="#6f9a30" stroke="#6a8f2e" stroke-width="0.8" stroke-linejoin="round" />
<polygon points="442.9,797 452.6,802.6 452.6,809 442.9,803.4" fill="#8FBE45" stroke="#6a8f2e" stroke-width="0.8" stroke-linejoin="round" />
<polygon points="438,802.3 446,806.9 449,805.1 441,800.5" fill="#d0d0d0" stroke="#8a8a8a" stroke-width="0.8" stroke-linejoin="round" />
<polygon points="446,806.9 446,812 449,810.2 449,805.1" fill="#8c8c8c" stroke="#8a8a8a" stroke-width="0.8" stroke-linejoin="round" />
<polygon points="438,802.3 446,806.9 446,812 438,807.4" fill="#b3b3b3" stroke="#8a8a8a" stroke-width="0.8" stroke-linejoin="round" />
<polygon points="436,805.5 441,808.4 444.1,806.6 439,803.8" fill="#d0d0d0" stroke="#8a8a8a" stroke-width="0.8" stroke-linejoin="round" />
<polygon points="441,808.4 441,816.5 444.1,814.8 444.1,806.6" fill="#8c8c8c" stroke="#8a8a8a" stroke-width="0.8" stroke-linejoin="round" />
<polygon points="436,805.5 441,808.4 441,816.5 436,813.6" fill="#b3b3b3" stroke="#8a8a8a" stroke-width="0.8" stroke-linejoin="round" />
<polygon points="428.7,803.4 434,806.4 437,804.7 431.7,801.6" fill="#d0d0d0" stroke="#8a8a8a" stroke-width="0.8" stroke-linejoin="round" />
<polygon points="434,806.4 434,819.9 437,818.2 437,804.7" fill="#8c8c8c" stroke="#8a8a8a" stroke-width="0.8" stroke-linejoin="round" />
<polygon points="428.7,803.4 434,806.4 434,819.9 428.7,816.9" fill="#b3b3b3" stroke="#8a8a8a" stroke-width="0.8" stroke-linejoin="round" />
<polygon points="423,800 429.9,804 433,802.2 426,798.2" fill="#d0d0d0" stroke="#8a8a8a" stroke-width="0.8" stroke-linejoin="round" />
<polygon points="429.9,804 429.9,824 433,822.2 433,802.2" fill="#8c8c8c" stroke="#8a8a8a" stroke-width="0.8" stroke-linejoin="round" />
<polygon points="423,800 429.9,804 429.9,824 423,820" fill="#b3b3b3" stroke="#8a8a8a" stroke-width="0.8" stroke-linejoin="round" />
<polygon points="406.6,790.8 420.8,799 423.8,797.2 409.6,789" fill="#d0d0d0" stroke="#8a8a8a" stroke-width="0.8" stroke-linejoin="round" />
<polygon points="420.8,799 420.8,829 423.8,827.2 423.8,797.2" fill="#8c8c8c" stroke="#8a8a8a" stroke-width="0.8" stroke-linejoin="round" />
<polygon points="406.6,790.8 420.8,799 420.8,829 406.6,820.8" fill="#b3b3b3" stroke="#8a8a8a" stroke-width="0.8" stroke-linejoin="round" />
<polyline points="414.5,794.7 414.5,779.7 478,745.3 478,763" fill="none" stroke="#F09A3E" stroke-width="0.9" />
<polyline points="420.5,795.5 420.5,783.7 467.8,757.5 467.8,768" fill="none" stroke="#F09A3E" stroke-width="0.9" />
<polyline points="430,802.6 430,790 458.7,774.2 458.7,786.8" fill="none" stroke="#F09A3E" stroke-width="0.9" />
<polyline points="436.2,804.2 436.2,792.4 450.4,784.8 450.4,796.3" fill="none" stroke="#F09A3E" stroke-width="0.9" />
<polyline points="375.8,810.5 439,847 539.2,789.1" fill="none" stroke="#ffffff" stroke-width="1.5" />
<g transform="matrix(0.8660,-0.5000,0,1,495,831.5)"><text transform="scale(0.6,1)" font-family="&quot;Liberation Sans&quot;, sans-serif" font-size="18" font-weight="bold" font-style="normal" fill="#111" text-anchor="middle" >UNET</text></g>
<polygon points="547.7,768.7 523.5,768.7 529.7,772.3 519.3,778.3 531.1,785.1 541.5,779.1 547.7,782.7" fill="#cfcfcf" stroke="#cfcfcf" stroke-width="0.6" stroke-linejoin="round" />
<polygon points="523.5,765.5 529.7,769.1 529.7,772.3 523.5,768.7" fill="#f0f0f0" />
<polygon points="519.3,775.1 531.1,781.9 531.1,785.1 519.3,778.3" fill="#f0f0f0" />
<polygon points="541.5,775.9 547.7,779.5 547.7,782.7 541.5,779.1" fill="#f0f0f0" />
<polygon points="547.7,765.5 523.5,765.5 529.7,769.1 519.3,775.1 531.1,781.9 541.5,775.9 547.7,779.5" fill="#F4AE62" stroke="#ffffff" stroke-width="1.6" stroke-linejoin="round" />
<polygon points="393.6,842.2 369.4,842.2 375.6,845.8 365.2,851.8 377,858.6 387.4,852.6 393.6,856.2" fill="#cfcfcf" stroke="#cfcfcf" stroke-width="0.6" stroke-linejoin="round" />
<polygon points="369.4,839 375.6,842.6 375.6,845.8 369.4,842.2" fill="#f0f0f0" />
<polygon points="365.2,848.6 377,855.4 377,858.6 365.2,851.8" fill="#f0f0f0" />
<polygon points="387.4,849.4 393.6,853 393.6,856.2 387.4,852.6" fill="#f0f0f0" />
<polygon points="393.6,839 369.4,839 375.6,842.6 365.2,848.6 377,855.4 387.4,849.4 393.6,853" fill="#F4AE62" stroke="#ffffff" stroke-width="1.6" stroke-linejoin="round" />
<polygon points="211.5,816 211.9,812.9 213,810.4 214.8,808.7 247.7,789.7 250,789 252.8,789.3 255.7,790.5 423.1,887.1 426,889.3 428.7,892.1 431,895.5 432.8,899.3 433.9,903.1 434.3,906.6 434.3,927.6 433.9,930.8 432.8,933.3 431,934.9 398.1,953.9 395.8,954.7 393.1,954.4 390.2,953.1 222.8,856.5 219.8,854.4 217.1,851.5 214.8,848.1 213,844.4 211.9,840.6 211.5,837" fill="#84905F" />
<linearGradient id="g14" gradientUnits="userSpaceOnUse" x1="390.2" y1="906.1" x2="403.1" y2="928.5"><stop offset="0" stop-color="#84905F"/><stop offset="0.35" stop-color="#3d4226"/><stop offset="0.7" stop-color="#16170c"/><stop offset="1" stop-color="#12130a"/></linearGradient>
<polygon points="390.2,906.1 423.1,887.1 426,889.3 428.7,892.1 431,895.5 432.8,899.3 433.9,903.1 434.3,906.6 434.3,927.6 433.9,930.8 432.8,933.3 431,934.9 398.1,953.9 395.8,954.7 393.1,954.4 390.2,953.1" fill="url(#g14)" />
<polygon points="211.5,816 211.9,812.9 213,810.4 214.8,808.7 217.1,808 219.8,808.3 222.8,809.5 390.2,906.1 393.1,908.3 395.8,911.1 398.1,914.6 399.9,918.3 401,922.1 401.4,925.6 401.4,946.6 401,949.8 399.9,952.3 398.1,953.9 395.8,954.7 393.1,954.4 390.2,953.1 222.8,856.5 219.8,854.4 217.1,851.5 214.8,848.1 213,844.4 211.9,840.6 211.5,837" fill="#BCCB8C" />
<clipPath id="c15"><polygon points="243.9,839.2 244.1,837.5 244.7,836.2 245.7,835.3 246.9,834.9 248.4,835 250,835.7 362.8,900.9 364.4,902 365.8,903.5 367.1,905.4 368,907.4 368.7,909.4 368.9,911.4 368.9,925.6 368.7,927.3 368,928.7 367.1,929.6 365.8,930 364.4,929.8 362.8,929.1 250,864 248.4,862.9 246.9,861.3 245.7,859.5 244.7,857.5 244.1,855.4 243.9,853.5"/></clipPath>
<polygon points="243.9,839.2 244.1,837.5 244.7,836.2 245.7,835.3 246.9,834.9 248.4,835 250,835.7 362.8,900.9 364.4,902 365.8,903.5 367.1,905.4 368,907.4 368.7,909.4 368.9,911.4 368.9,925.6 368.7,927.3 368,928.7 367.1,929.6 365.8,930 364.4,929.8 362.8,929.1 250,864 248.4,862.9 246.9,861.3 245.7,859.5 244.7,857.5 244.1,855.4 243.9,853.5" fill="#84905F" />
<linearGradient id="g16" gradientUnits="userSpaceOnUse" x1="243.9" y1="832.2" x2="257.6" y2="856"><stop offset="0" stop-color="#0f1008"/><stop offset="0.68" stop-color="#0f1008"/><stop offset="1" stop-color="#0f1008" stop-opacity="0"/></linearGradient>
<g clip-path="url(#c15)"><polygon points="241.9,830.2 241.9,861.5 278.5,840.5 278.5,812.2" fill="url(#g16)" /></g>
<polygon points="261,849.4 261.2,848.4 261.5,847.7 262.1,847.2 262.8,846.9 263.6,847 264.5,847.4 351.5,897.6 352.4,898.3 353.3,899.2 354,900.2 354.5,901.4 354.9,902.5 355,903.6 355,910.1 354.9,911.1 354.5,911.9 354,912.4 353.3,912.6 352.4,912.5 351.5,912.1 264.5,861.9 263.6,861.2 262.8,860.4 262.1,859.3 261.5,858.2 261.2,857 261,855.9" fill="none" stroke="#F4A85E" stroke-width="2.2" stroke-linejoin="round" />
<polygon points="272.9,858.8 348.1,902.1 341.6,905.9 266.4,862.5" fill="#1b1b1b" stroke="#1b1b1b" stroke-width="0.8" stroke-linejoin="round" />
<text transform="matrix(0.8660,0.5000,-0.8660,0.5000,318.5,851.5)" font-family="&quot;Liberation Sans&quot;, sans-serif" font-size="22.3" font-weight="normal" font-style="italic" fill="#fff" text-anchor="middle"  stroke="#fff" stroke-width="0.8" stroke-linejoin="round">Input</text>
<polygon points="289.5,887.2 265.3,887.2 271.5,890.8 261.1,896.8 272.9,903.6 283.3,897.6 289.5,901.2" fill="#cfcfcf" stroke="#cfcfcf" stroke-width="0.6" stroke-linejoin="round" />
<polygon points="265.3,884 271.5,887.6 271.5,890.8 265.3,887.2" fill="#f0f0f0" />
<polygon points="261.1,893.6 272.9,900.4 272.9,903.6 261.1,896.8" fill="#f0f0f0" />
<polygon points="283.3,894.4 289.5,898 289.5,901.2 283.3,897.6" fill="#f0f0f0" />
<polygon points="289.5,884 265.3,884 271.5,887.6 261.1,893.6 272.9,900.4 283.3,894.4 289.5,898" fill="#F4AE62" stroke="#ffffff" stroke-width="1.6" stroke-linejoin="round" />
<polygon points="570.8,906 570.8,905.8 570.9,905.6 571.1,905.4 571.2,905.2 854.3,741.9 854.4,741.8 854.6,741.8 854.7,741.9 854.7,742.1 854.7,775.1 854.7,775.3 854.6,775.5 854.4,775.7 854.3,775.9 571.2,939.2 571.1,939.3 570.9,939.3 570.8,939.2 570.8,939" fill="#ffffff" stroke="#3f6230" stroke-width="2" stroke-linejoin="round" />
<text transform="matrix(0.8660,-0.5000,0,1,712.7,847.3)" font-family="&quot;Liberation Sans&quot;, sans-serif" font-size="18.8" font-weight="bold" font-style="italic" fill="#375623" text-anchor="middle"  stroke="#375623" stroke-width="0.35" stroke-linejoin="round">Stage2: Train Registration Network</text>
<!-- parts_misc -->
<polygon points="1.8,688.8 64.6,725 64.6,738.6 1.8,702.4" fill="#000" />
<polygon points="64.6,725 151,675.1 151,688.8 64.6,738.6" fill="#000" />
<polygon points="1.8,688.8 88.2,638.9 151,675.1 64.6,725" fill="#000" />
<clipPath id="c17"><rect x="0" y="0" width="72.5" height="99.8"/></clipPath>
<g transform="matrix(0.8660,0.5000,0.8660,-0.5000,1.8,688.8)"><g clip-path="url(#c17)">
<clipPath id="b18"><rect x="4.1" y="4.5" width="64.2" height="90.8" rx="32.1" ry="45.4"/></clipPath>
<rect x="4.1" y="4.5" width="64.2" height="90.8" rx="32.1" ry="45.4" fill="#262626" stroke="#8a8a8a" stroke-width="2.2" filter="url(#bl05)"/>
<rect x="7.3" y="8.5" width="58" height="82.8" rx="29" ry="41.4" fill="none" stroke="#3c3c3c" stroke-width="2.2" filter="url(#bl05)"/>
<g clip-path="url(#b18)">
<ellipse cx="36.2" cy="49.9" rx="28" ry="40.9" fill="#3a3a3a" filter="url(#bl2)" />
<ellipse cx="23.6" cy="19.8" rx="11.8" ry="9.1" fill="#7e7e7e" filter="url(#bl1)" transform="rotate(20 23.6 19.8)" />
<ellipse cx="29.9" cy="26.8" rx="6.3" ry="5.2" fill="#777" filter="url(#bl1)" />
<ellipse cx="14.1" cy="46" rx="2.9" ry="4.4" fill="#f2f2f2" filter="url(#bl05)" />
<ellipse cx="16.3" cy="39" rx="1.8" ry="2.2" fill="#d0d0d0" filter="url(#bl05)" />
<ellipse cx="17.2" cy="52.9" rx="1.8" ry="2.2" fill="#c8c8c8" filter="url(#bl05)" />
<ellipse cx="22.7" cy="49.5" rx="3.6" ry="3.9" fill="#a8a8a8" filter="url(#bl05)" />
<ellipse cx="27.2" cy="56.4" rx="3.6" ry="3.5" fill="#8f8f8f" filter="url(#bl05)" />
<ellipse cx="32.6" cy="66.9" rx="8.6" ry="9.1" fill="#8a8a8a" filter="url(#bl1)" />
<ellipse cx="32.6" cy="66.9" rx="2.9" ry="3.1" fill="#2a2a2a" filter="url(#bl05)" />
<ellipse cx="46.2" cy="79.9" rx="10.4" ry="8.3" fill="#848484" filter="url(#bl1)" transform="rotate(-25 46.2 79.9)" />
<ellipse cx="48.9" cy="32" rx="7.2" ry="13.1" fill="#868686" filter="url(#bl1)" transform="rotate(-20 48.9 32)" />
<ellipse cx="54.3" cy="44.2" rx="5" ry="7" fill="#8c8c8c" filter="url(#bl05)" />
<ellipse cx="41.7" cy="40.7" rx="3.6" ry="4.4" fill="#7a7a7a" filter="url(#bl05)" />
<ellipse cx="56.1" cy="55.5" rx="2.4" ry="3.1" fill="#e2e2e2" filter="url(#bl05)" />
<ellipse cx="45.3" cy="59.9" rx="2.7" ry="2.6" fill="#9a9a9a" filter="url(#bl05)" />
<ellipse cx="39.8" cy="51.2" rx="2.7" ry="3" fill="#8a8a8a" filter="url(#bl05)" />
</g>
</g></g>
<polygon points="1.8,688.8 88.2,638.9 151,675.1 64.6,725" fill="none" stroke="#b8b8b8" stroke-width="1" stroke-linejoin="round" />
<polyline points="1.8,688.8 1.8,702.4 64.6,738.6 151,688.8 151,675.1" fill="none" stroke="#b8b8b8" stroke-width="1" />
<polyline points="64.6,725 64.6,738.6" fill="none" stroke="#b8b8b8" stroke-width="1" />
<polygon points="807.3,500.5 862.7,532.5 862.7,544.5 807.3,512.5" fill="#4a4a4a" />
<polygon points="862.7,532.5 938.9,488.5 938.9,500.5 862.7,544.5" fill="#8c8c8c" />
<polygon points="807.3,500.5 883.5,456.5 938.9,488.5 862.7,532.5" fill="#000" />
<clipPath id="c19"><rect x="0" y="0" width="64" height="88"/></clipPath>
<g transform="matrix(0.8660,0.5000,0.8660,-0.5000,807.3,500.5)"><g clip-path="url(#c19)">
<ellipse cx="32" cy="44" rx="30.6" ry="42.2" fill="#161616" filter="url(#bl05)" stroke="#3a3a3a" stroke-width="2"/>
<ellipse cx="32" cy="44" rx="25.6" ry="37" fill="#2a2a2a" filter="url(#bl2)" />
<ellipse cx="14.6" cy="42.2" rx="9.1" ry="9.7" fill="#4e4e4e" filter="url(#bl1)" />
<ellipse cx="12.8" cy="26.4" rx="6.4" ry="7" fill="#3c3c3c" filter="url(#bl1)" />
<ellipse cx="23.8" cy="22" rx="6.4" ry="7" fill="#ffffff" filter="url(#bl1)" />
<ellipse cx="26.5" cy="25.5" rx="2.7" ry="2.6" fill="#7a7a7a" filter="url(#bl05)" />
<ellipse cx="23.8" cy="62.5" rx="7.8" ry="8.4" fill="#ffffff" filter="url(#bl1)" />
<ellipse cx="27.4" cy="61.6" rx="2.9" ry="3.2" fill="#3a3a3a" filter="url(#bl05)" />
<ellipse cx="39.3" cy="75.7" rx="9.1" ry="8.4" fill="#b4b4b4" filter="url(#bl1)" transform="rotate(-25 39.3 75.7)" />
<ellipse cx="42.1" cy="17.6" rx="4.6" ry="5.3" fill="#cdcdcd" filter="url(#bl1)" />
<ellipse cx="51.2" cy="27.3" rx="3.7" ry="6.2" fill="#c4c4c4" filter="url(#bl05)" transform="rotate(-20 51.2 27.3)" />
<ellipse cx="47.5" cy="35.2" rx="2.7" ry="3.5" fill="#9c9c9c" filter="url(#bl05)" />
<ellipse cx="47.5" cy="51" rx="2.6" ry="4.4" fill="#f2f2f2" filter="url(#bl05)" transform="rotate(30 47.5 51)" />
<ellipse cx="43" cy="56.3" rx="2.2" ry="2.6" fill="#dedede" filter="url(#bl05)" />
<ellipse cx="41.1" cy="44" rx="2.7" ry="2.8" fill="#b8b8b8" filter="url(#bl05)" />
<ellipse cx="34.7" cy="38.7" rx="2.7" ry="2.6" fill="#9a9a9a" filter="url(#bl05)" />
<ellipse cx="35.7" cy="50.2" rx="2.3" ry="2.2" fill="#a8a8a8" filter="url(#bl05)" />
<ellipse cx="53" cy="44" rx="2.7" ry="3.5" fill="#8a8a8a" filter="url(#bl05)" />
</g></g>
<polygon points="807.3,500.5 883.5,456.5 938.9,488.5 862.7,532.5" fill="none" stroke="#f4f4f4" stroke-width="1.5" stroke-linejoin="round" />
<polyline points="807.3,500.5 807.3,512.5 862.7,544.5 938.9,500.5 938.9,488.5" fill="none" stroke="#f4f4f4" stroke-width="1.5" />
<polyline points="862.7,532.5 862.7,544.5" fill="none" stroke="#f4f4f4" stroke-width="1.5" />
<polygon points="886,548.5 940.6,580 940.6,592.5 886,561" fill="#000" />
<polygon points="940.6,580 1015.9,536.5 1015.9,549 940.6,592.5" fill="#000" />
<polygon points="886,548.5 961.3,505 1015.9,536.5 940.6,580" fill="#000" />
<clipPath id="c20"><rect x="0" y="0" width="63" height="87"/></clipPath>
<g transform="matrix(0.8660,0.5000,0.8660,-0.5000,886,548.5)"><g clip-path="url(#c20)">
<rect x="2.7" y="2.6" width="57.6" height="81.8" rx="19.8" ry="26.1" fill="#4e4e4e" stroke="#6a6a6a" stroke-width="2" filter="url(#bl1)"/>
<ellipse cx="19.8" cy="21.8" rx="9.9" ry="10.4" fill="#1c1c1c" filter="url(#bl1)" />
<ellipse cx="19.8" cy="21.8" rx="7.2" ry="7.8" fill="#9a9a9a" filter="url(#bl1)" />
<ellipse cx="21.6" cy="23.5" rx="1.8" ry="1.7" fill="#3a3a3a" filter="url(#bl05)" />
<ellipse cx="24.3" cy="57.4" rx="10.8" ry="10.4" fill="#1c1c1c" filter="url(#bl1)" />
<ellipse cx="24.3" cy="57.4" rx="8.1" ry="7.8" fill="#9c9c9c" filter="url(#bl1)" />
<ellipse cx="26.1" cy="57.4" rx="2" ry="2.2" fill="#333" filter="url(#bl05)" />
<ellipse cx="36" cy="74.8" rx="9" ry="7.8" fill="#8e8e8e" filter="url(#bl1)" transform="rotate(-25 36 74.8)" />
<ellipse cx="45" cy="31.3" rx="7.2" ry="11.3" fill="#8a8a8a" filter="url(#bl1)" transform="rotate(-20 45 31.3)" />
<ellipse cx="41.4" cy="50.5" rx="4.5" ry="4.3" fill="#909090" filter="url(#bl1)" />
<ellipse cx="50.4" cy="45.2" rx="3.6" ry="4.3" fill="#858585" filter="url(#bl05)" />
<ellipse cx="10.8" cy="40.9" rx="1.8" ry="2.6" fill="#e0e0e0" filter="url(#bl05)" />
<ellipse cx="12.6" cy="60.9" rx="2.7" ry="2.6" fill="#d0d0d0" filter="url(#bl05)" />
<ellipse cx="32.4" cy="40" rx="3.6" ry="5.2" fill="#808080" filter="url(#bl05)" />
<ellipse cx="34.2" cy="64.4" rx="3.6" ry="3.5" fill="#222" filter="url(#bl05)" />
<ellipse cx="10.8" cy="26.1" rx="4.5" ry="7" fill="#303030" filter="url(#bl1)" />
</g></g>
<polygon points="886,548.5 961.3,505 1015.9,536.5 940.6,580" fill="none" stroke="#777" stroke-width="1" stroke-linejoin="round" />
<polyline points="886,548.5 886,561 940.6,592.5 1015.9,549 1015.9,536.5" fill="none" stroke="#777" stroke-width="1" />
<polyline points="940.6,580 940.6,592.5" fill="none" stroke="#777" stroke-width="1" />
<polygon points="956.8,452.1 924.4,452.1 935.6,458.6 913.7,471.2 923.7,477 945.6,464.4 956.8,470.8" fill="#cfcfcf" stroke="#cfcfcf" stroke-width="0.6" stroke-linejoin="round" />
<polygon points="924.4,448.9 935.6,455.4 935.6,458.6 924.4,452.1" fill="#f0f0f0" />
<polygon points="913.7,468 923.7,473.8 923.7,477 913.7,471.2" fill="#f0f0f0" />
<polygon points="945.6,461.2 956.8,467.6 956.8,470.8 945.6,464.4" fill="#f0f0f0" />
<polygon points="956.8,448.9 924.4,448.9 935.6,455.4 913.7,468 923.7,473.8 945.6,461.2 956.8,467.6" fill="#F4AE62" stroke="#ffffff" stroke-width="1.6" stroke-linejoin="round" />
<polygon points="1040.2,500.1 1007.8,500.1 1019,506.6 997.1,519.2 1007.1,525 1029,512.4 1040.2,518.8" fill="#cfcfcf" stroke="#cfcfcf" stroke-width="0.6" stroke-linejoin="round" />
<polygon points="1007.8,496.9 1019,503.4 1019,506.6 1007.8,500.1" fill="#f0f0f0" />
<polygon points="997.1,516 1007.1,521.8 1007.1,525 997.1,519.2" fill="#f0f0f0" />
<polygon points="1029,509.2 1040.2,515.6 1040.2,518.8 1029,512.4" fill="#f0f0f0" />
<polygon points="1040.2,496.9 1007.8,496.9 1019,503.4 997.1,516 1007.1,521.8 1029,509.2 1040.2,515.6" fill="#F4AE62" stroke="#ffffff" stroke-width="1.6" stroke-linejoin="round" />
<polyline points="862,314.5 994,383" fill="none" stroke="#E6AD72" stroke-width="3.1" stroke-dasharray="9.4,1.6"/>
<polygon points="1004.5,390.5 988,388.5 995,376.5" fill="#E6AD72" />
<polygon points="1233.3,354.2 1193,354.2 1203.4,360.2 1162.9,383.5 1182.5,394.9 1223,371.5 1233.3,377.4" fill="#d4d4d4" stroke="#d4d4d4" stroke-width="0.6" stroke-linejoin="round" />
<polygon points="1193,350.2 1203.4,356.2 1203.4,360.2 1193,354.2" fill="#e6e6e6" />
<polygon points="1162.9,379.5 1182.5,390.9 1182.5,394.9 1162.9,383.5" fill="#e6e6e6" />
<polygon points="1223,367.5 1233.3,373.4 1233.3,377.4 1223,371.5" fill="#e6e6e6" />
<polygon points="1233.3,350.2 1193,350.2 1203.4,356.2 1162.9,379.5 1182.5,390.9 1223,367.5 1233.3,373.4" fill="#7FAFD7" stroke="#ffffff" stroke-width="1.2" stroke-linejoin="round" />
<polygon points="950,427.3 1070.4,496.8 1070.4,516.8 950,447.3" fill="#7f7f7f" />
<polygon points="1070.4,496.8 1217.3,412 1217.3,432 1070.4,516.8" fill="#e4e4e4" />
<polygon points="950,427.3 1096.9,342.5 1217.3,412 1070.4,496.8" fill="#8FA3BF" />
<polyline points="950,427.3 1096.9,342.5 1217.3,412" fill="none" stroke="#ffffff" stroke-width="1.3" />
<polyline points="950,427.3 1070.4,496.8 1217.3,412" fill="none" stroke="#f4f4f4" stroke-width="1" />
<polygon points="1098,324.5 1191,378.2 1195.3,375.7 1102.3,322" fill="#cfdea9" stroke="#ffffff" stroke-width="0.8" stroke-linejoin="round" />
<polygon points="1191,378.2 1191,415.8 1195.3,413.3 1195.3,375.7" fill="#c6d79b" stroke="#ffffff" stroke-width="0.8" stroke-linejoin="round" />
<polygon points="1098,324.5 1191,378.2 1191,415.8 1098,362.1" fill="#BBCF8A" stroke="#ffffff" stroke-width="0.8" stroke-linejoin="round" />
<polygon points="1095.7,344 1170.2,387 1174.5,384.5 1100,341.5" fill="#fff0bf" stroke="#ffffff" stroke-width="0.8" stroke-linejoin="round" />
<polygon points="1170.2,387 1170.2,425.4 1174.5,422.9 1174.5,384.5" fill="#ffeaa8" stroke="#ffffff" stroke-width="0.8" stroke-linejoin="round" />
<polygon points="1095.7,344 1170.2,387 1170.2,425.4 1095.7,382.4" fill="#FFE699" stroke="#ffffff" stroke-width="0.8" stroke-linejoin="round" />
<polygon points="1096.9,367.8 1141.9,393.8 1146.3,391.3 1101.2,365.3" fill="#f6d9d3" stroke="#ffffff" stroke-width="0.8" stroke-linejoin="round" />
<polygon points="1141.9,393.8 1141.9,422.3 1146.3,419.8 1146.3,391.3" fill="#f2cdc6" stroke="#ffffff" stroke-width="0.8" stroke-linejoin="round" />
<polygon points="1096.9,367.8 1141.9,393.8 1141.9,422.3 1096.9,396.3" fill="#F0C5BD" stroke="#ffffff" stroke-width="0.8" stroke-linejoin="round" />
<circle r="3.1" fill="#F4B183" transform="matrix(0.8660,-0.5000,0,1,1083,406)"/>
<circle r="3.1" fill="#F4B183" transform="matrix(0.8660,-0.5000,0,1,1083.6,406.4)"/>
<circle r="3.1" fill="#F4B183" transform="matrix(0.8660,-0.5000,0,1,1084.1,406.7)"/>
<circle r="3.1" fill="#F4B183" stroke="#fff" stroke-width="0.9" transform="matrix(0.8660,-0.5000,0,1,1084.6,407)"/>
<circle r="3.8" fill="#F4B183" transform="matrix(0.8660,-0.5000,0,1,1090.7,401.6)"/>
<circle r="3.8" fill="#F4B183" transform="matrix(0.8660,-0.5000,0,1,1091.3,402)"/>
<circle r="3.8" fill="#F4B183" transform="matrix(0.8660,-0.5000,0,1,1092,402.4)"/>
<circle r="3.8" fill="#F4B183" stroke="#fff" stroke-width="0.9" transform="matrix(0.8660,-0.5000,0,1,1092.6,402.8)"/>
<circle r="4.4" fill="#F4B183" transform="matrix(0.8660,-0.5000,0,1,1099.7,396.6)"/>
<circle r="4.4" fill="#F4B183" transform="matrix(0.8660,-0.5000,0,1,1100.4,397.1)"/>
<circle r="4.4" fill="#F4B183" transform="matrix(0.8660,-0.5000,0,1,1101.2,397.6)"/>
<circle r="4.4" fill="#F4B183" stroke="#fff" stroke-width="0.9" transform="matrix(0.8660,-0.5000,0,1,1101.9,398)"/>
<polygon points="1044.9,390.4 1090.5,416.8 1094.9,414.2 1049.2,387.9" fill="#f6d9d3" stroke="#ffffff" stroke-width="0.8" stroke-linejoin="round" />
<polygon points="1090.5,416.8 1090.5,443.8 1094.9,441.2 1094.9,414.2" fill="#f2cdc6" stroke="#ffffff" stroke-width="0.8" stroke-linejoin="round" />
<polygon points="1044.9,390.4 1090.5,416.8 1090.5,443.8 1044.9,417.4" fill="#F0C5BD" stroke="#ffffff" stroke-width="0.8" stroke-linejoin="round" />
<polygon points="1007.6,386.6 1081.8,429.4 1086.1,426.9 1011.9,384.1" fill="#fff0bf" stroke="#ffffff" stroke-width="0.8" stroke-linejoin="round" />
<polygon points="1081.8,429.4 1081.8,464.1 1086.1,461.6 1086.1,426.9" fill="#ffeaa8" stroke="#ffffff" stroke-width="0.8" stroke-linejoin="round" />
<polygon points="1007.6,386.6 1081.8,429.4 1081.8,464.1 1007.6,421.2" fill="#FFE699" stroke="#ffffff" stroke-width="0.8" stroke-linejoin="round" />
<polygon points="972.6,387.3 1067.9,442.3 1072.2,439.8 976.9,384.8" fill="#cfdea9" stroke="#ffffff" stroke-width="0.8" stroke-linejoin="round" />
<polygon points="1067.9,442.3 1067.9,481 1072.2,478.5 1072.2,439.8" fill="#c6d79b" stroke="#ffffff" stroke-width="0.8" stroke-linejoin="round" />
<polygon points="972.6,387.3 1067.9,442.3 1067.9,481 972.6,426" fill="#BBCF8A" stroke="#ffffff" stroke-width="0.8" stroke-linejoin="round" />
<g transform="matrix(0.8660,-0.5000,0,1,1142.5,470.5)"><text transform="scale(0.66,1)" font-family="&quot;Liberation Sans&quot;, sans-serif" font-size="19" font-weight="bold" font-style="normal" fill="#111" text-anchor="middle"  stroke="#111" stroke-width="0.2" stroke-linejoin="round">SynMSE</text></g>
<polyline points="1201.7,286 1202.4,364" fill="none" stroke="#e6e6e6" stroke-width="5" />
<circle cx="1202.4" cy="364.5" r="3.1" fill="#f0f0f0"/>
<polygon points="1124.9,295.9 1125.1,294.4 1125.8,292.9 1126.8,291.5 1127.9,290.6 1258.4,215.3 1259.5,214.9 1260.5,215.1 1264.4,217.3 1265,218.1 1265.3,219.3 1265.3,248.1 1265,249.6 1264.4,251.1 1263.4,252.4 1262.2,253.3 1131.8,328.6 1130.7,329.1 1129.7,328.9 1125.8,326.6 1125.1,325.9 1124.9,324.6" fill="#cdcdcd" />
<polygon points="1130.6,293.5 1263.5,216.8 1259.6,214.6 1126.7,291.3" fill="#c2c2c2" stroke="#c2c2c2" stroke-width="0.8" stroke-linejoin="round" />
<polygon points="1128.8,298.1 1129,296.6 1129.7,295.1 1130.7,293.8 1131.8,292.8 1262.3,217.5 1263.4,217.1 1264.4,217.3 1265.1,218.1 1265.3,219.3 1265.3,248.1 1265.1,249.6 1264.4,251.1 1263.4,252.4 1262.3,253.3 1131.8,328.6 1130.7,329.1 1129.7,328.9 1129,328.1 1128.8,326.9" fill="#FDB945" stroke="#ffffff" stroke-width="1.6" stroke-linejoin="round" />
<text transform="matrix(0.8660,-0.5000,0,1,1197,279.8)" font-family="&quot;Liberation Sans&quot;, sans-serif" font-size="18.7" font-weight="bold" font-style="normal" fill="#fff" text-anchor="middle"  stroke="#fff" stroke-width="0.35" stroke-linejoin="round">Similarity Loss</text>
<polygon points="39.2,868 101.7,904.1 101.7,915.1 39.2,879" fill="#3a3a3a" />
<polygon points="101.7,904.1 189.5,853.4 189.5,864.4 101.7,915.1" fill="#8a8a8a" />
<polygon points="39.2,868 127,817.3 189.5,853.4 101.7,904.1" fill="#000" />
<clipPath id="c21"><rect x="0" y="0" width="72.2" height="101.4"/></clipPath>
<g transform="matrix(0.8660,0.5000,0.8660,-0.5000,39.2,868)"><g clip-path="url(#c21)">
<ellipse cx="36.1" cy="50.7" rx="34.6" ry="48.7" fill="#161616" filter="url(#bl05)" stroke="#3a3a3a" stroke-width="2"/>
<ellipse cx="36.1" cy="50.7" rx="28.9" ry="42.6" fill="#2a2a2a" filter="url(#bl2)" />
<ellipse cx="16.5" cy="48.7" rx="10.3" ry="11.2" fill="#4e4e4e" filter="url(#bl1)" />
<ellipse cx="14.4" cy="30.4" rx="7.2" ry="8.1" fill="#3c3c3c" filter="url(#bl1)" />
<ellipse cx="26.8" cy="25.4" rx="7.2" ry="8.1" fill="#ffffff" filter="url(#bl1)" />
<ellipse cx="29.9" cy="29.4" rx="3.1" ry="3" fill="#7a7a7a" filter="url(#bl05)" />
<ellipse cx="26.8" cy="72" rx="8.8" ry="9.6" fill="#ffffff" filter="url(#bl1)" />
<ellipse cx="30.9" cy="71" rx="3.3" ry="3.7" fill="#3a3a3a" filter="url(#bl05)" />
<ellipse cx="44.4" cy="87.2" rx="10.3" ry="9.6" fill="#b4b4b4" filter="url(#bl1)" transform="rotate(-25 44.4 87.2)" />
<ellipse cx="47.4" cy="20.3" rx="5.2" ry="6.1" fill="#cdcdcd" filter="url(#bl1)" />
<ellipse cx="57.8" cy="31.4" rx="4.1" ry="7.1" fill="#c4c4c4" filter="url(#bl05)" transform="rotate(-20 57.8 31.4)" />
<ellipse cx="53.6" cy="40.6" rx="3.1" ry="4.1" fill="#9c9c9c" filter="url(#bl05)" />
<ellipse cx="53.6" cy="58.8" rx="2.9" ry="5.1" fill="#f2f2f2" filter="url(#bl05)" transform="rotate(30 53.6 58.8)" />
<ellipse cx="48.5" cy="64.9" rx="2.5" ry="3" fill="#dedede" filter="url(#bl05)" />
<ellipse cx="46.4" cy="50.7" rx="3.1" ry="3.2" fill="#b8b8b8" filter="url(#bl05)" />
<ellipse cx="39.2" cy="44.6" rx="3.1" ry="3" fill="#9a9a9a" filter="url(#bl05)" />
<ellipse cx="40.2" cy="57.8" rx="2.6" ry="2.5" fill="#a8a8a8" filter="url(#bl05)" />
<ellipse cx="59.8" cy="50.7" rx="3.1" ry="4.1" fill="#8a8a8a" filter="url(#bl05)" />
</g></g>
<polygon points="39.2,868 127,817.3 189.5,853.4 101.7,904.1" fill="none" stroke="#f4f4f4" stroke-width="1.5" stroke-linejoin="round" />
<polyline points="39.2,868 39.2,879 101.7,915.1 189.5,864.4 189.5,853.4" fill="none" stroke="#f4f4f4" stroke-width="1.5" />
<polyline points="101.7,904.1 101.7,915.1" fill="none" stroke="#f4f4f4" stroke-width="1.5" />
<polyline points="122.6,906 122.6,934" fill="none" stroke="#E8A568" stroke-width="2.6" />
<polygon points="118.6,930.5 126.6,930.5 122.6,939" fill="#E8A568" />
<polygon points="141,915.6 189.2,943.4 189.2,955 141,927.2" fill="#444" />
<polygon points="189.2,943.4 258.1,903.6 258.1,915.2 189.2,955" fill="#111" />
<polygon points="141,915.6 209.9,875.8 258.1,903.6 189.2,943.4" fill="#000" />
<clipPath id="c22"><rect x="0" y="0" width="55.6" height="79.6"/></clipPath>
<g transform="matrix(0.8660,0.5000,0.8660,-0.5000,141,915.6)"><g clip-path="url(#c22)">
<ellipse cx="27.8" cy="39.8" rx="26.6" ry="38.2" fill="#161616" filter="url(#bl05)" stroke="#3a3a3a" stroke-width="2"/>
<ellipse cx="27.8" cy="39.8" rx="22.2" ry="33.4" fill="#2a2a2a" filter="url(#bl2)" />
<ellipse cx="12.7" cy="38.2" rx="7.9" ry="8.8" fill="#4e4e4e" filter="url(#bl1)" />
<ellipse cx="11.1" cy="23.9" rx="5.6" ry="6.4" fill="#3c3c3c" filter="url(#bl1)" />
<ellipse cx="20.7" cy="19.9" rx="5.6" ry="6.4" fill="#ffffff" filter="url(#bl1)" />
<ellipse cx="23" cy="23.1" rx="2.4" ry="2.4" fill="#7a7a7a" filter="url(#bl05)" />
<ellipse cx="20.7" cy="56.5" rx="6.8" ry="7.6" fill="#ffffff" filter="url(#bl1)" />
<ellipse cx="23.8" cy="55.7" rx="2.5" ry="2.9" fill="#3a3a3a" filter="url(#bl05)" />
<ellipse cx="34.2" cy="68.5" rx="7.9" ry="7.6" fill="#b4b4b4" filter="url(#bl1)" transform="rotate(-25 34.2 68.5)" />
<ellipse cx="36.5" cy="15.9" rx="4" ry="4.8" fill="#cdcdcd" filter="url(#bl1)" />
<ellipse cx="44.5" cy="24.7" rx="3.2" ry="5.6" fill="#c4c4c4" filter="url(#bl05)" transform="rotate(-20 44.5 24.7)" />
<ellipse cx="41.3" cy="31.8" rx="2.4" ry="3.2" fill="#9c9c9c" filter="url(#bl05)" />
<ellipse cx="41.3" cy="46.2" rx="2.2" ry="4" fill="#f2f2f2" filter="url(#bl05)" transform="rotate(30 41.3 46.2)" />
<ellipse cx="37.3" cy="50.9" rx="1.9" ry="2.4" fill="#dedede" filter="url(#bl05)" />
<ellipse cx="35.7" cy="39.8" rx="2.4" ry="2.5" fill="#b8b8b8" filter="url(#bl05)" />
<ellipse cx="30.2" cy="35" rx="2.4" ry="2.4" fill="#9a9a9a" filter="url(#bl05)" />
<ellipse cx="31" cy="45.4" rx="2" ry="2" fill="#a8a8a8" filter="url(#bl05)" />
<ellipse cx="46.1" cy="39.8" rx="2.4" ry="3.2" fill="#8a8a8a" filter="url(#bl05)" />
</g></g>
<polygon points="141,915.6 209.9,875.8 258.1,903.6 189.2,943.4" fill="none" stroke="#bdbdbd" stroke-width="1" stroke-linejoin="round" />
<polyline points="141,915.6 141,927.2 189.2,955 258.1,915.2 258.1,903.6" fill="none" stroke="#bdbdbd" stroke-width="1" />
<polyline points="189.2,943.4 189.2,955" fill="none" stroke="#bdbdbd" stroke-width="1" />
<polygon points="189.2,943.4 237.4,971.2 237.4,982.9 189.2,955" fill="#050505" />
<polygon points="237.4,971.2 306.3,931.4 306.3,943 237.4,982.9" fill="#0a0a0a" />
<polygon points="189.2,943.4 258.1,903.6 306.3,931.4 237.4,971.2" fill="#000" />
<clipPath id="c23"><rect x="0" y="0" width="55.7" height="79.6"/></clipPath>
<g transform="matrix(0.8660,0.5000,0.8660,-0.5000,189.2,943.4)"><g clip-path="url(#c23)">
<clipPath id="b24"><rect x="3.2" y="3.6" width="49.3" height="72.4" rx="24.7" ry="36.2"/></clipPath>
<rect x="3.2" y="3.6" width="49.3" height="72.4" rx="24.7" ry="36.2" fill="#262626" stroke="#8a8a8a" stroke-width="2.2" filter="url(#bl05)"/>
<rect x="5.6" y="6.8" width="44.6" height="66.1" rx="22.3" ry="33" fill="none" stroke="#3c3c3c" stroke-width="2.2" filter="url(#bl05)"/>
<g clip-path="url(#b24)">
<ellipse cx="27.9" cy="39.8" rx="21.5" ry="32.6" fill="#3a3a3a" filter="url(#bl2)" />
<ellipse cx="18.1" cy="15.8" rx="9" ry="7.3" fill="#7e7e7e" filter="url(#bl1)" transform="rotate(20 18.1 15.8)" />
<ellipse cx="23" cy="21.4" rx="4.9" ry="4.2" fill="#777" filter="url(#bl1)" />
<ellipse cx="10.8" cy="36.7" rx="2.2" ry="3.5" fill="#f2f2f2" filter="url(#bl05)" />
<ellipse cx="12.6" cy="31.1" rx="1.4" ry="1.7" fill="#d0d0d0" filter="url(#bl05)" />
<ellipse cx="13.2" cy="42.2" rx="1.4" ry="1.7" fill="#c8c8c8" filter="url(#bl05)" />
<ellipse cx="17.4" cy="39.4" rx="2.8" ry="3.1" fill="#a8a8a8" filter="url(#bl05)" />
<ellipse cx="20.9" cy="45" rx="2.8" ry="2.8" fill="#8f8f8f" filter="url(#bl05)" />
<ellipse cx="25.1" cy="53.3" rx="6.6" ry="7.3" fill="#8a8a8a" filter="url(#bl1)" />
<ellipse cx="25.1" cy="53.3" rx="2.2" ry="2.5" fill="#2a2a2a" filter="url(#bl05)" />
<ellipse cx="35.5" cy="63.8" rx="8" ry="6.6" fill="#848484" filter="url(#bl1)" transform="rotate(-25 35.5 63.8)" />
<ellipse cx="37.6" cy="25.5" rx="5.6" ry="10.4" fill="#868686" filter="url(#bl1)" transform="rotate(-20 37.6 25.5)" />
<ellipse cx="41.7" cy="35.3" rx="3.8" ry="5.6" fill="#8c8c8c" filter="url(#bl05)" />
<ellipse cx="32" cy="32.5" rx="2.8" ry="3.5" fill="#7a7a7a" filter="url(#bl05)" />
<ellipse cx="43.1" cy="44.3" rx="1.8" ry="2.5" fill="#e2e2e2" filter="url(#bl05)" />
<ellipse cx="34.8" cy="47.8" rx="2.1" ry="2.1" fill="#9a9a9a" filter="url(#bl05)" />
<ellipse cx="30.6" cy="40.8" rx="2.1" ry="2.4" fill="#8a8a8a" filter="url(#bl05)" />
</g>
</g></g>
<polygon points="189.2,943.4 258.1,903.6 306.3,931.4 237.4,971.2" fill="none" stroke="#bdbdbd" stroke-width="1" stroke-linejoin="round" />
<polyline points="189.2,943.4 189.2,955 237.4,982.9 306.3,943 306.3,931.4" fill="none" stroke="#bdbdbd" stroke-width="1" />
<polyline points="237.4,971.2 237.4,982.9" fill="none" stroke="#bdbdbd" stroke-width="1" />
<polygon points="176.3,951.5 151.4,951.5 157.8,955.2 146.8,961.5 159,968.5 169.9,962.2 176.3,965.9" fill="#cfcfcf" stroke="#cfcfcf" stroke-width="0.6" stroke-linejoin="round" />
<polygon points="151.4,948.3 157.8,952 157.8,955.2 151.4,951.5" fill="#f0f0f0" />
<polygon points="146.8,958.3 159,965.3 159,968.5 146.8,961.5" fill="#f0f0f0" />
<polygon points="169.9,959 176.3,962.7 176.3,965.9 169.9,962.2" fill="#f0f0f0" />
<polygon points="176.3,948.3 151.4,948.3 157.8,952 146.8,958.3 159,965.3 169.9,959 176.3,962.7" fill="#F4AE62" stroke="#ffffff" stroke-width="1.6" stroke-linejoin="round" />
<polygon points="60.4,1042.8 122.5,1078.6 122.5,1090.6 60.4,1054.8" fill="#000" />
<polygon points="122.5,1078.6 209.8,1028.2 209.8,1040.2 122.5,1090.6" fill="#050505" />
<polygon points="60.4,1042.8 147.7,992.4 209.8,1028.2 122.5,1078.6" fill="#000" />
<clipPath id="c25"><rect x="0" y="0" width="71.7" height="100.8"/></clipPath>
<g transform="matrix(0.8660,0.5000,0.8660,-0.5000,60.4,1042.8)"><g clip-path="url(#c25)">
<clipPath id="b26"><rect x="4.1" y="4.5" width="63.5" height="91.7" rx="31.8" ry="45.9"/></clipPath>
<rect x="4.1" y="4.5" width="63.5" height="91.7" rx="31.8" ry="45.9" fill="#262626" stroke="#8a8a8a" stroke-width="2.2" filter="url(#bl05)"/>
<rect x="7.2" y="8.6" width="57.4" height="83.7" rx="28.7" ry="41.8" fill="none" stroke="#3c3c3c" stroke-width="2.2" filter="url(#bl05)"/>
<g clip-path="url(#b26)">
<ellipse cx="35.9" cy="50.4" rx="27.7" ry="41.3" fill="#3a3a3a" filter="url(#bl2)" />
<ellipse cx="23.3" cy="20" rx="11.6" ry="9.2" fill="#7e7e7e" filter="url(#bl1)" transform="rotate(20 23.3 20)" />
<ellipse cx="29.6" cy="27.1" rx="6.3" ry="5.3" fill="#777" filter="url(#bl1)" />
<ellipse cx="13.9" cy="46.4" rx="2.9" ry="4.4" fill="#f2f2f2" filter="url(#bl05)" />
<ellipse cx="16.2" cy="39.4" rx="1.8" ry="2.2" fill="#d0d0d0" filter="url(#bl05)" />
<ellipse cx="17.1" cy="53.5" rx="1.8" ry="2.2" fill="#c8c8c8" filter="url(#bl05)" />
<ellipse cx="22.4" cy="49.9" rx="3.6" ry="4" fill="#a8a8a8" filter="url(#bl05)" />
<ellipse cx="26.9" cy="57" rx="3.6" ry="3.5" fill="#8f8f8f" filter="url(#bl05)" />
<ellipse cx="32.3" cy="67.5" rx="8.5" ry="9.2" fill="#8a8a8a" filter="url(#bl1)" />
<ellipse cx="32.3" cy="67.5" rx="2.9" ry="3.2" fill="#2a2a2a" filter="url(#bl05)" />
<ellipse cx="45.7" cy="80.7" rx="10.3" ry="8.4" fill="#848484" filter="url(#bl1)" transform="rotate(-25 45.7 80.7)" />
<ellipse cx="48.4" cy="32.3" rx="7.2" ry="13.2" fill="#868686" filter="url(#bl1)" transform="rotate(-20 48.4 32.3)" />
<ellipse cx="53.7" cy="44.7" rx="4.9" ry="7" fill="#8c8c8c" filter="url(#bl05)" />
<ellipse cx="41.2" cy="41.1" rx="3.6" ry="4.4" fill="#7a7a7a" filter="url(#bl05)" />
<ellipse cx="55.5" cy="56.1" rx="2.3" ry="3.2" fill="#e2e2e2" filter="url(#bl05)" />
<ellipse cx="44.8" cy="60.5" rx="2.7" ry="2.6" fill="#9a9a9a" filter="url(#bl05)" />
<ellipse cx="39.4" cy="51.7" rx="2.7" ry="3.1" fill="#8a8a8a" filter="url(#bl05)" />
</g>
</g></g>
<polygon points="60.4,1042.8 147.7,992.4 209.8,1028.2 122.5,1078.6" fill="none" stroke="#c0c0c0" stroke-width="1" stroke-linejoin="round" />
<polyline points="60.4,1042.8 60.4,1054.8 122.5,1090.6 209.8,1040.2 209.8,1028.2" fill="none" stroke="#c0c0c0" stroke-width="1" />
<polyline points="122.5,1078.6 122.5,1090.6" fill="none" stroke="#c0c0c0" stroke-width="1" />
<polygon points="42,995.9 145.7,936 137.2,933.4 33.5,993.3" fill="#6f9152" />
<polygon points="42,995.9 42,1038.5 33.5,1038 33.5,993.3" fill="#5E7F45" />
<polygon points="42,995.9 145.7,936 145.7,978.6 42,1038.5" fill="#8DB56E" />
<g transform="matrix(0.8660,-0.5000,0,1,93.8,995.8)"><text transform="scale(0.69,1)" font-family="&quot;Liberation Sans&quot;, sans-serif" font-size="23.7" font-weight="normal" font-style="normal" fill="#fff" text-anchor="middle"  stroke="#fff" stroke-width="0.25" stroke-linejoin="round">Concatenate</text></g>
<polyline points="125.8,1033 125.8,993" fill="none" stroke="#E8A568" stroke-width="2.6" />
<polygon points="121.8,995 129.8,995 125.8,986.5" fill="#E8A568" />
</svg></body></html>
